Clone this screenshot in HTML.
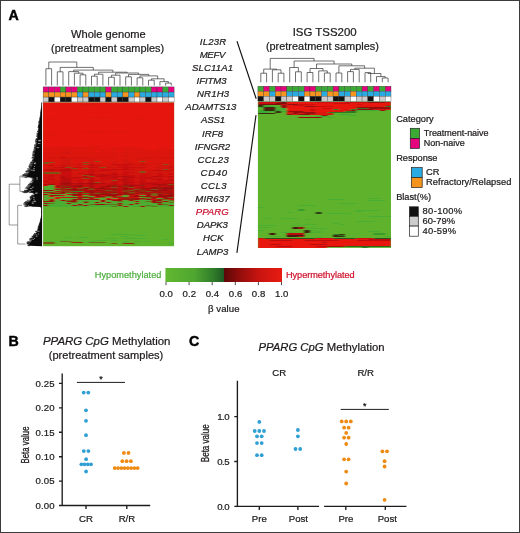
<!DOCTYPE html>
<html lang="en"><head><meta charset="utf-8"><title>Figure</title>
<style>html,body{margin:0;padding:0;background:#fff}svg{display:block;filter:opacity(1)}</style></head>
<body>
<svg width="520" height="533" viewBox="0 0 520 533" font-family="'Liberation Sans', Arial, Helvetica, sans-serif" fill="#1d1a1b">
<rect x="0" y="0" width="520" height="533" fill="#fff"/>
<text x="8.4" y="20.4" font-size="14.2" fill="#000" font-weight="bold" stroke="#000" stroke-width="0.45">A</text>
<text x="108.4" y="37.6" font-size="11.1" text-anchor="middle" textLength="74.8" lengthAdjust="spacingAndGlyphs" stroke="#1d1a1b" stroke-width="0.22">Whole genome</text>
<text x="107.6" y="51.6" font-size="11.1" text-anchor="middle" textLength="113" lengthAdjust="spacingAndGlyphs" stroke="#1d1a1b" stroke-width="0.22">(pretreatment samples)</text>
<text x="324.7" y="36.4" font-size="11.1" text-anchor="middle" textLength="64" lengthAdjust="spacingAndGlyphs" stroke="#1d1a1b" stroke-width="0.22">ISG TSS200</text>
<text x="322.4" y="50.4" font-size="11.1" text-anchor="middle" textLength="113" lengthAdjust="spacingAndGlyphs" stroke="#1d1a1b" stroke-width="0.22">(pretreatment samples)</text>
<text x="213" y="44.8" font-size="9.6" text-anchor="middle" font-style="italic" textLength="26.3" stroke="#1d1a1b" stroke-width="0.22">IL23R</text>
<text x="212.5" y="57.9" font-size="9.6" text-anchor="middle" font-style="italic" textLength="25.6" stroke="#1d1a1b" stroke-width="0.22">MEFV</text>
<text x="212.5" y="71.0" font-size="9.6" text-anchor="middle" font-style="italic" textLength="41.2" stroke="#1d1a1b" stroke-width="0.22">SLC11A1</text>
<text x="211.6" y="84.1" font-size="9.6" text-anchor="middle" font-style="italic" textLength="30" stroke="#1d1a1b" stroke-width="0.22">IFITM3</text>
<text x="213" y="97.2" font-size="9.6" text-anchor="middle" font-style="italic" textLength="32.2" stroke="#1d1a1b" stroke-width="0.22">NR1H3</text>
<text x="210.9" y="110.3" font-size="9.6" text-anchor="middle" font-style="italic" textLength="51.1" stroke="#1d1a1b" stroke-width="0.22">ADAMTS13</text>
<text x="213" y="123.4" font-size="9.6" text-anchor="middle" font-style="italic" textLength="24.1" stroke="#1d1a1b" stroke-width="0.22">ASS1</text>
<text x="212.5" y="136.5" font-size="9.6" text-anchor="middle" font-style="italic" textLength="21" stroke="#1d1a1b" stroke-width="0.22">IRF8</text>
<text x="212.5" y="149.6" font-size="9.6" text-anchor="middle" font-style="italic" textLength="35.4" stroke="#1d1a1b" stroke-width="0.22">IFNGR2</text>
<text x="213.2" y="162.7" font-size="9.6" text-anchor="middle" font-style="italic" textLength="31.5" stroke="#1d1a1b" stroke-width="0.22">CCL23</text>
<text x="213.8" y="175.8" font-size="9.6" text-anchor="middle" font-style="italic" textLength="26.4" stroke="#1d1a1b" stroke-width="0.22">CD40</text>
<text x="213.6" y="189.0" font-size="9.6" text-anchor="middle" font-style="italic" textLength="25.9" stroke="#1d1a1b" stroke-width="0.22">CCL3</text>
<text x="212.4" y="202.1" font-size="9.6" text-anchor="middle" font-style="italic" textLength="34.2" stroke="#1d1a1b" stroke-width="0.22">MIR637</text>
<text x="212.2" y="215.2" font-size="9.6" text-anchor="middle" fill="#c8102e" font-style="italic" textLength="32.9" stroke="#c8102e" stroke-width="0.22">PPARG</text>
<text x="212.4" y="228.3" font-size="9.6" text-anchor="middle" font-style="italic" textLength="31.1" stroke="#1d1a1b" stroke-width="0.22">DAPK3</text>
<text x="213.2" y="241.4" font-size="9.6" text-anchor="middle" font-style="italic" textLength="20.3" stroke="#1d1a1b" stroke-width="0.22">HCK</text>
<text x="212.6" y="254.5" font-size="9.6" text-anchor="middle" font-style="italic" textLength="31.5" stroke="#1d1a1b" stroke-width="0.22">LAMP3</text>
<path d="M237 41.2L256.2 98.7M256 115.2L236.9 252.8" stroke="#151515" stroke-width="1.15" fill="none"/>
<rect x="43.1" y="102.5" width="131.0" height="143.7" fill="#5eb22c"/>
<rect x="43.1" y="102.5" width="131.0" height="100" fill="#e6160e"/>
<defs><filter id="bl" x="-5%" y="-5%" width="110%" height="110%"><feGaussianBlur stdDeviation="1.0 0.6"/></filter><filter id="bl2" x="-5%" y="-5%" width="110%" height="110%"><feGaussianBlur stdDeviation="0.8 0.45"/></filter><clipPath id="cl"><rect x="43.1" y="102.5" width="131.0" height="143.7"/></clipPath><clipPath id="cr"><rect x="257.9" y="101.5" width="133.1" height="146.4"/></clipPath></defs>
<g clip-path="url(#cl)"><g filter="url(#bl)">
<path fill="#4bae31" d="M48.8 185h5.7v1h-5.7zM43.1 186h11.4v1h-11.4zM43.1 187h11.4v1h-11.4zM43.1 188h11.4v1h-11.4zM43.1 189h11.4v1h-11.4zM54.5 190h5.7v1h-5.7zM43.1 191h11.4v1h-11.4zM43.1 193h5.7v1h-5.7zM65.9 193h5.7v1h-5.7zM48.8 194h17.1v1h-17.1zM43.1 195h5.7v1h-5.7zM65.9 195h5.7v1h-5.7zM83.0 195h5.7v1h-5.7zM122.8 195h5.7v1h-5.7zM139.9 195h5.7v1h-5.7zM43.1 196h5.7v1h-5.7zM54.5 196h22.8v1h-22.8zM88.7 196h5.7v1h-5.7zM122.8 196h5.7v1h-5.7zM43.1 197h11.4v1h-11.4zM105.8 197h5.7v1h-5.7zM139.9 197h5.7v1h-5.7zM43.1 198h11.4v1h-11.4zM60.2 198h17.1v1h-17.1zM83.0 198h5.7v1h-5.7zM94.4 198h11.4v1h-11.4zM111.4 198h5.7v1h-5.7zM157.0 198h5.7v1h-5.7zM43.1 199h5.7v1h-5.7zM54.5 199h17.1v1h-17.1zM100.1 199h5.7v1h-5.7zM43.1 200h5.7v1h-5.7zM54.5 200h5.7v1h-5.7zM77.3 200h22.8v1h-22.8zM105.8 200h5.7v1h-5.7zM122.8 200h5.7v1h-5.7zM134.2 200h17.1v1h-17.1zM162.7 200h5.7v1h-5.7zM54.5 201h11.4v1h-11.4zM77.3 201h5.7v1h-5.7zM88.7 201h11.4v1h-11.4zM105.8 201h11.4v1h-11.4zM122.8 201h11.4v1h-11.4zM139.9 201h5.7v1h-5.7zM168.4 201h5.7v1h-5.7zM43.1 202h28.5v1h-28.5zM77.3 202h5.7v1h-5.7zM88.7 202h5.7v1h-5.7zM100.1 202h5.7v1h-5.7zM111.4 202h39.9v1h-39.9zM162.7 202h5.7v1h-5.7zM54.5 203h11.4v1h-11.4zM71.6 203h45.6v1h-45.6zM122.8 203h11.4v1h-11.4zM139.9 203h17.1v1h-17.1zM162.7 203h11.4v1h-11.4zM43.1 204h34.2v1h-34.2zM83.0 204h5.7v1h-5.7zM122.8 204h5.7v1h-5.7zM134.2 204h22.8v1h-22.8zM168.4 204h5.7v1h-5.7zM48.8 205h22.8v1h-22.8zM88.7 205h28.5v1h-28.5zM122.8 205h22.8v1h-22.8zM151.3 205h17.1v1h-17.1zM43.1 206h68.3v1h-68.3zM117.1 206h5.7v1h-5.7zM128.5 206h11.4v1h-11.4zM145.6 206h5.7v1h-5.7zM157.0 206h17.1v1h-17.1zM111.4 234h22.8v1h-22.8zM134.2 235h11.4v1h-11.4zM122.8 236h5.7v1h-5.7zM65.9 237h5.7v1h-5.7zM77.3 237h11.4v1h-11.4zM105.8 238h11.4v1h-11.4zM122.8 238h22.8v1h-22.8zM162.7 239h5.7v1h-5.7zM60.2 240h5.7v1h-5.7zM94.4 240h11.4v1h-11.4zM111.4 240h5.7v1h-5.7zM48.8 241h5.7v1h-5.7zM88.7 241h5.7v1h-5.7zM122.8 241h5.7v1h-5.7zM134.2 241h5.7v1h-5.7zM145.6 241h5.7v1h-5.7zM122.8 242h5.7v1h-5.7zM168.4 243h5.7v1h-5.7z"/>
<path fill="#3a8024" d="M71.6 191h11.4v1h-11.4zM71.6 193h5.7v1h-5.7zM83.0 193h5.7v1h-5.7z"/>
<path fill="#5e731d" d="M65.9 200h5.7v1h-5.7zM168.4 200h5.7v1h-5.7zM83.0 201h5.7v1h-5.7zM117.1 201h5.7v1h-5.7zM145.6 201h5.7v1h-5.7zM157.0 201h5.7v1h-5.7zM71.6 202h5.7v1h-5.7zM168.4 202h5.7v1h-5.7zM48.8 203h5.7v1h-5.7zM157.0 203h5.7v1h-5.7zM88.7 204h5.7v1h-5.7zM105.8 204h17.1v1h-17.1zM162.7 204h5.7v1h-5.7zM77.3 205h5.7v1h-5.7zM145.6 205h5.7v1h-5.7zM111.4 206h5.7v1h-5.7zM151.3 206h5.7v1h-5.7z"/>
<path fill="#706c1a" d="M54.5 188h5.7v1h-5.7zM65.9 188h5.7v1h-5.7zM54.5 192h5.7v1h-5.7zM151.3 194h5.7v1h-5.7zM151.3 195h5.7v1h-5.7zM83.0 196h5.7v1h-5.7zM105.8 196h5.7v1h-5.7zM117.1 196h5.7v1h-5.7zM100.1 197h5.7v1h-5.7zM145.6 197h5.7v1h-5.7zM168.4 197h5.7v1h-5.7zM145.6 198h5.7v1h-5.7zM139.9 199h5.7v1h-5.7zM162.7 199h5.7v1h-5.7zM60.2 241h11.4v1h-11.4zM88.7 242h17.1v1h-17.1z"/>
<path fill="#7d5515" d="M94.4 161h5.7v1h-5.7zM139.9 161h5.7v1h-5.7zM43.1 162h11.4v1h-11.4zM83.0 162h5.7v1h-5.7zM43.1 163h5.7v1h-5.7zM83.0 164h5.7v1h-5.7zM162.7 164h5.7v1h-5.7zM65.9 167h5.7v1h-5.7zM100.1 167h5.7v1h-5.7zM71.6 168h5.7v1h-5.7zM83.0 168h5.7v1h-5.7zM162.7 169h5.7v1h-5.7zM139.9 171h5.7v1h-5.7zM43.1 172h17.1v1h-17.1zM139.9 172h5.7v1h-5.7zM43.1 173h17.1v1h-17.1zM83.0 175h5.7v1h-5.7zM88.7 176h5.7v1h-5.7zM83.0 178h5.7v1h-5.7zM111.4 180h5.7v1h-5.7zM94.4 182h5.7v1h-5.7zM168.4 184h5.7v1h-5.7zM83.0 187h5.7v1h-5.7zM111.4 187h5.7v1h-5.7zM128.5 187h5.7v1h-5.7zM77.3 188h5.7v1h-5.7zM88.7 189h5.7v1h-5.7zM134.2 189h5.7v1h-5.7zM151.3 189h5.7v1h-5.7zM105.8 190h5.7v1h-5.7zM128.5 190h5.7v1h-5.7zM145.6 191h5.7v1h-5.7zM128.5 192h5.7v1h-5.7zM94.4 193h5.7v1h-5.7zM111.4 193h5.7v1h-5.7zM151.3 193h5.7v1h-5.7zM43.1 242h11.4v1h-11.4zM43.1 243h11.4v1h-11.4zM111.4 243h5.7v1h-5.7z"/>
<path fill="#8a3e10" d="M65.9 190h5.7v1h-5.7zM60.2 191h11.4v1h-11.4zM122.8 191h5.7v1h-5.7zM65.9 192h5.7v1h-5.7z"/>
<path fill="#912d0e" d="M60.2 186h11.4v1h-11.4zM122.8 186h5.7v1h-5.7zM60.2 188h5.7v1h-5.7zM88.7 188h5.7v1h-5.7zM60.2 189h5.7v1h-5.7zM60.2 190h5.7v1h-5.7zM122.8 190h5.7v1h-5.7zM139.9 190h5.7v1h-5.7zM111.4 191h5.7v1h-5.7zM139.9 191h5.7v1h-5.7zM48.8 192h5.7v1h-5.7zM128.5 193h5.7v1h-5.7zM139.9 193h5.7v1h-5.7zM157.0 193h5.7v1h-5.7zM88.7 197h5.7v1h-5.7zM122.8 197h5.7v1h-5.7zM71.6 242h11.4v1h-11.4zM122.8 243h11.4v1h-11.4z"/>
<path fill="#971d0c" d="M60.2 185h5.7v1h-5.7zM111.4 185h5.7v1h-5.7zM122.8 185h5.7v1h-5.7zM139.9 185h5.7v1h-5.7zM111.4 186h5.7v1h-5.7zM157.0 187h5.7v1h-5.7zM157.0 188h5.7v1h-5.7zM77.3 189h5.7v1h-5.7zM111.4 189h5.7v1h-5.7zM139.9 189h5.7v1h-5.7zM168.4 189h5.7v1h-5.7zM48.8 190h5.7v1h-5.7zM77.3 190h5.7v1h-5.7zM100.1 190h5.7v1h-5.7zM157.0 190h5.7v1h-5.7zM83.0 191h5.7v1h-5.7zM105.8 191h5.7v1h-5.7zM128.5 191h11.4v1h-11.4zM151.3 191h5.7v1h-5.7zM43.1 192h5.7v1h-5.7zM94.4 192h11.4v1h-11.4zM60.2 193h5.7v1h-5.7zM88.7 193h5.7v1h-5.7zM100.1 193h11.4v1h-11.4zM122.8 193h5.7v1h-5.7zM134.2 193h5.7v1h-5.7zM145.6 193h5.7v1h-5.7zM162.7 193h11.4v1h-11.4zM88.7 194h5.7v1h-5.7zM122.8 194h5.7v1h-5.7zM88.7 195h5.7v1h-5.7zM111.4 196h5.7v1h-5.7zM139.9 196h5.7v1h-5.7zM71.6 197h17.1v1h-17.1zM117.1 197h5.7v1h-5.7zM151.3 197h5.7v1h-5.7zM162.7 197h5.7v1h-5.7zM77.3 198h5.7v1h-5.7zM88.7 198h5.7v1h-5.7zM122.8 198h11.4v1h-11.4zM139.9 198h5.7v1h-5.7zM168.4 198h5.7v1h-5.7zM77.3 199h5.7v1h-5.7zM88.7 199h5.7v1h-5.7zM122.8 199h11.4v1h-11.4zM157.0 199h5.7v1h-5.7z"/>
<path fill="#9e0c0a" d="M60.2 183h11.4v1h-11.4zM88.7 183h5.7v1h-5.7zM48.8 184h5.7v1h-5.7zM157.0 184h5.7v1h-5.7zM77.3 185h5.7v1h-5.7zM128.5 185h5.7v1h-5.7zM168.4 185h5.7v1h-5.7zM54.5 186h5.7v1h-5.7zM71.6 186h11.4v1h-11.4zM105.8 186h5.7v1h-5.7zM117.1 186h5.7v1h-5.7zM128.5 186h5.7v1h-5.7zM65.9 187h5.7v1h-5.7zM100.1 187h5.7v1h-5.7zM151.3 187h5.7v1h-5.7zM162.7 187h11.4v1h-11.4zM71.6 188h5.7v1h-5.7zM83.0 188h5.7v1h-5.7zM94.4 188h11.4v1h-11.4zM122.8 188h5.7v1h-5.7zM145.6 188h11.4v1h-11.4zM162.7 188h11.4v1h-11.4zM54.5 189h5.7v1h-5.7zM65.9 189h11.4v1h-11.4zM83.0 189h5.7v1h-5.7zM105.8 189h5.7v1h-5.7zM122.8 189h5.7v1h-5.7zM162.7 189h5.7v1h-5.7zM43.1 190h5.7v1h-5.7zM71.6 190h5.7v1h-5.7zM88.7 190h11.4v1h-11.4zM134.2 190h5.7v1h-5.7zM145.6 190h11.4v1h-11.4zM162.7 190h5.7v1h-5.7zM88.7 191h5.7v1h-5.7zM60.2 192h5.7v1h-5.7zM88.7 192h5.7v1h-5.7zM111.4 192h5.7v1h-5.7zM122.8 192h5.7v1h-5.7zM139.9 192h5.7v1h-5.7zM43.1 194h5.7v1h-5.7zM71.6 194h11.4v1h-11.4zM94.4 194h28.5v1h-28.5zM128.5 194h5.7v1h-5.7zM145.6 194h5.7v1h-5.7zM157.0 194h5.7v1h-5.7zM168.4 194h5.7v1h-5.7zM48.8 195h11.4v1h-11.4zM71.6 195h11.4v1h-11.4zM94.4 195h5.7v1h-5.7zM105.8 195h11.4v1h-11.4zM134.2 195h5.7v1h-5.7zM145.6 195h5.7v1h-5.7zM157.0 195h17.1v1h-17.1zM94.4 196h11.4v1h-11.4zM128.5 196h11.4v1h-11.4zM145.6 196h5.7v1h-5.7zM157.0 196h17.1v1h-17.1zM134.2 198h5.7v1h-5.7zM151.3 198h5.7v1h-5.7zM162.7 198h5.7v1h-5.7zM71.6 199h5.7v1h-5.7zM83.0 199h5.7v1h-5.7zM94.4 199h5.7v1h-5.7zM105.8 199h5.7v1h-5.7zM117.1 199h5.7v1h-5.7zM134.2 199h5.7v1h-5.7zM145.6 199h5.7v1h-5.7zM48.8 200h5.7v1h-5.7zM60.2 200h5.7v1h-5.7zM71.6 200h5.7v1h-5.7zM100.1 200h5.7v1h-5.7zM111.4 200h11.4v1h-11.4zM128.5 200h5.7v1h-5.7zM151.3 200h11.4v1h-11.4zM43.1 201h11.4v1h-11.4zM65.9 201h11.4v1h-11.4zM100.1 201h5.7v1h-5.7zM134.2 201h5.7v1h-5.7zM151.3 201h5.7v1h-5.7zM162.7 201h5.7v1h-5.7zM83.0 202h5.7v1h-5.7zM94.4 202h5.7v1h-5.7zM105.8 202h5.7v1h-5.7zM151.3 202h11.4v1h-11.4zM43.1 203h5.7v1h-5.7zM65.9 203h5.7v1h-5.7zM117.1 203h5.7v1h-5.7zM134.2 203h5.7v1h-5.7zM77.3 204h5.7v1h-5.7zM94.4 204h11.4v1h-11.4zM128.5 204h5.7v1h-5.7zM157.0 204h5.7v1h-5.7zM43.1 205h5.7v1h-5.7zM71.6 205h5.7v1h-5.7zM83.0 205h5.7v1h-5.7zM117.1 205h5.7v1h-5.7zM168.4 205h5.7v1h-5.7zM122.8 206h5.7v1h-5.7zM139.9 206h5.7v1h-5.7z"/>
<path fill="#ad0d0b" d="M65.9 170h5.7v1h-5.7zM88.7 174h5.7v1h-5.7zM122.8 176h5.7v1h-5.7zM60.2 177h5.7v1h-5.7zM122.8 179h5.7v1h-5.7zM65.9 182h5.7v1h-5.7zM77.3 183h11.4v1h-11.4zM94.4 183h11.4v1h-11.4zM168.4 183h5.7v1h-5.7zM43.1 184h5.7v1h-5.7zM60.2 184h11.4v1h-11.4zM88.7 184h5.7v1h-5.7zM122.8 184h5.7v1h-5.7zM151.3 184h5.7v1h-5.7zM162.7 184h5.7v1h-5.7zM65.9 185h11.4v1h-11.4zM88.7 185h5.7v1h-5.7zM105.8 185h5.7v1h-5.7zM134.2 185h5.7v1h-5.7zM162.7 185h5.7v1h-5.7zM88.7 186h5.7v1h-5.7zM60.2 187h5.7v1h-5.7zM88.7 187h5.7v1h-5.7zM122.8 187h5.7v1h-5.7zM139.9 187h5.7v1h-5.7zM111.4 188h5.7v1h-5.7zM139.9 188h5.7v1h-5.7zM128.5 189h5.7v1h-5.7zM157.0 189h5.7v1h-5.7zM111.4 190h5.7v1h-5.7zM100.1 191h5.7v1h-5.7zM157.0 191h5.7v1h-5.7zM168.4 191h5.7v1h-5.7zM77.3 192h5.7v1h-5.7zM157.0 192h5.7v1h-5.7zM168.4 192h5.7v1h-5.7zM48.8 193h11.4v1h-11.4zM77.3 193h5.7v1h-5.7zM117.1 193h5.7v1h-5.7z"/>
<path fill="#bb0f0b" d="M88.7 165h5.7v1h-5.7zM60.2 167h5.7v1h-5.7zM88.7 167h5.7v1h-5.7zM48.8 169h5.7v1h-5.7zM60.2 169h11.4v1h-11.4zM111.4 169h5.7v1h-5.7zM122.8 169h5.7v1h-5.7zM48.8 170h5.7v1h-5.7zM60.2 170h5.7v1h-5.7zM157.0 170h5.7v1h-5.7zM83.0 174h5.7v1h-5.7zM100.1 174h5.7v1h-5.7zM111.4 174h5.7v1h-5.7zM88.7 175h5.7v1h-5.7zM100.1 175h11.4v1h-11.4zM60.2 176h5.7v1h-5.7zM83.0 176h5.7v1h-5.7zM94.4 176h11.4v1h-11.4zM111.4 176h11.4v1h-11.4zM128.5 176h5.7v1h-5.7zM151.3 176h11.4v1h-11.4zM168.4 176h5.7v1h-5.7zM71.6 177h17.1v1h-17.1zM111.4 177h5.7v1h-5.7zM122.8 177h11.4v1h-11.4zM145.6 177h5.7v1h-5.7zM60.2 178h11.4v1h-11.4zM88.7 178h5.7v1h-5.7zM60.2 179h11.4v1h-11.4zM88.7 179h5.7v1h-5.7zM117.1 179h5.7v1h-5.7zM151.3 179h11.4v1h-11.4zM168.4 179h5.7v1h-5.7zM60.2 180h11.4v1h-11.4zM88.7 180h5.7v1h-5.7zM122.8 180h5.7v1h-5.7zM60.2 181h11.4v1h-11.4zM88.7 181h5.7v1h-5.7zM122.8 181h5.7v1h-5.7zM139.9 181h5.7v1h-5.7zM60.2 182h5.7v1h-5.7zM88.7 182h5.7v1h-5.7zM122.8 182h11.4v1h-11.4zM71.6 183h5.7v1h-5.7zM111.4 183h5.7v1h-5.7zM122.8 183h5.7v1h-5.7zM139.9 183h17.1v1h-17.1zM162.7 183h5.7v1h-5.7zM77.3 184h5.7v1h-5.7zM111.4 184h5.7v1h-5.7zM128.5 184h5.7v1h-5.7zM139.9 184h5.7v1h-5.7zM157.0 185h5.7v1h-5.7zM100.1 186h5.7v1h-5.7zM139.9 186h5.7v1h-5.7zM157.0 186h5.7v1h-5.7zM168.4 186h5.7v1h-5.7zM77.3 187h5.7v1h-5.7zM105.8 188h5.7v1h-5.7zM117.1 188h5.7v1h-5.7zM128.5 188h11.4v1h-11.4zM94.4 189h11.4v1h-11.4zM117.1 189h5.7v1h-5.7zM145.6 189h5.7v1h-5.7zM83.0 190h5.7v1h-5.7zM117.1 190h5.7v1h-5.7zM168.4 190h5.7v1h-5.7zM54.5 191h5.7v1h-5.7zM94.4 191h5.7v1h-5.7zM117.1 191h5.7v1h-5.7zM162.7 191h5.7v1h-5.7zM71.6 192h5.7v1h-5.7zM83.0 192h5.7v1h-5.7zM105.8 192h5.7v1h-5.7zM117.1 192h5.7v1h-5.7zM134.2 192h5.7v1h-5.7zM145.6 192h11.4v1h-11.4zM162.7 192h5.7v1h-5.7z"/>
<path fill="#ca100c" d="M60.2 157h5.7v1h-5.7zM77.3 164h5.7v1h-5.7zM88.7 164h5.7v1h-5.7zM111.4 164h22.8v1h-22.8zM139.9 164h5.7v1h-5.7zM48.8 165h5.7v1h-5.7zM60.2 165h5.7v1h-5.7zM94.4 165h5.7v1h-5.7zM117.1 165h11.4v1h-11.4zM122.8 166h5.7v1h-5.7zM54.5 167h5.7v1h-5.7zM71.6 167h11.4v1h-11.4zM94.4 167h5.7v1h-5.7zM105.8 167h5.7v1h-5.7zM117.1 167h28.5v1h-28.5zM168.4 167h5.7v1h-5.7zM65.9 168h5.7v1h-5.7zM122.8 168h5.7v1h-5.7zM43.1 169h5.7v1h-5.7zM54.5 169h5.7v1h-5.7zM71.6 169h5.7v1h-5.7zM88.7 169h5.7v1h-5.7zM100.1 169h11.4v1h-11.4zM117.1 169h5.7v1h-5.7zM128.5 169h5.7v1h-5.7zM43.1 170h5.7v1h-5.7zM54.5 170h5.7v1h-5.7zM88.7 170h22.8v1h-22.8zM151.3 170h5.7v1h-5.7zM162.7 170h11.4v1h-11.4zM60.2 171h11.4v1h-11.4zM88.7 171h5.7v1h-5.7zM122.8 171h5.7v1h-5.7zM60.2 172h11.4v1h-11.4zM88.7 172h5.7v1h-5.7zM111.4 172h5.7v1h-5.7zM122.8 172h11.4v1h-11.4zM60.2 173h11.4v1h-11.4zM77.3 173h5.7v1h-5.7zM88.7 173h5.7v1h-5.7zM111.4 173h5.7v1h-5.7zM122.8 173h5.7v1h-5.7zM139.9 173h5.7v1h-5.7zM157.0 173h5.7v1h-5.7zM168.4 173h5.7v1h-5.7zM60.2 174h11.4v1h-11.4zM94.4 174h5.7v1h-5.7zM105.8 174h5.7v1h-5.7zM117.1 174h11.4v1h-11.4zM145.6 174h5.7v1h-5.7zM157.0 174h5.7v1h-5.7zM168.4 174h5.7v1h-5.7zM48.8 175h5.7v1h-5.7zM60.2 175h11.4v1h-11.4zM94.4 175h5.7v1h-5.7zM111.4 175h5.7v1h-5.7zM122.8 175h11.4v1h-11.4zM139.9 175h5.7v1h-5.7zM157.0 175h5.7v1h-5.7zM48.8 176h5.7v1h-5.7zM65.9 176h5.7v1h-5.7zM105.8 176h5.7v1h-5.7zM139.9 176h5.7v1h-5.7zM162.7 176h5.7v1h-5.7zM43.1 177h5.7v1h-5.7zM65.9 177h5.7v1h-5.7zM88.7 177h5.7v1h-5.7zM100.1 177h11.4v1h-11.4zM134.2 177h11.4v1h-11.4zM151.3 177h5.7v1h-5.7zM168.4 177h5.7v1h-5.7zM48.8 178h5.7v1h-5.7zM71.6 178h5.7v1h-5.7zM100.1 178h17.1v1h-17.1zM122.8 178h11.4v1h-11.4zM139.9 178h11.4v1h-11.4zM157.0 178h5.7v1h-5.7zM48.8 179h5.7v1h-5.7zM77.3 179h11.4v1h-11.4zM100.1 179h17.1v1h-17.1zM128.5 179h5.7v1h-5.7zM139.9 179h5.7v1h-5.7zM43.1 180h11.4v1h-11.4zM71.6 180h11.4v1h-11.4zM94.4 180h5.7v1h-5.7zM117.1 180h5.7v1h-5.7zM128.5 180h5.7v1h-5.7zM139.9 180h5.7v1h-5.7zM157.0 180h17.1v1h-17.1zM43.1 181h5.7v1h-5.7zM54.5 181h5.7v1h-5.7zM77.3 181h5.7v1h-5.7zM100.1 181h5.7v1h-5.7zM111.4 181h11.4v1h-11.4zM128.5 181h5.7v1h-5.7zM157.0 181h17.1v1h-17.1zM43.1 182h11.4v1h-11.4zM77.3 182h5.7v1h-5.7zM111.4 182h5.7v1h-5.7zM134.2 182h34.2v1h-34.2zM48.8 183h11.4v1h-11.4zM105.8 183h5.7v1h-5.7zM128.5 183h5.7v1h-5.7zM157.0 183h5.7v1h-5.7zM54.5 184h5.7v1h-5.7zM71.6 184h5.7v1h-5.7zM83.0 184h5.7v1h-5.7zM94.4 184h17.1v1h-17.1zM117.1 184h5.7v1h-5.7zM134.2 184h5.7v1h-5.7zM145.6 184h5.7v1h-5.7zM43.1 185h5.7v1h-5.7zM54.5 185h5.7v1h-5.7zM83.0 185h5.7v1h-5.7zM94.4 185h11.4v1h-11.4zM117.1 185h5.7v1h-5.7zM145.6 185h11.4v1h-11.4zM83.0 186h5.7v1h-5.7zM94.4 186h5.7v1h-5.7zM134.2 186h5.7v1h-5.7zM145.6 186h11.4v1h-11.4zM162.7 186h5.7v1h-5.7zM54.5 187h5.7v1h-5.7zM71.6 187h5.7v1h-5.7zM94.4 187h5.7v1h-5.7zM105.8 187h5.7v1h-5.7zM117.1 187h5.7v1h-5.7zM134.2 187h5.7v1h-5.7zM145.6 187h5.7v1h-5.7z"/>
<path fill="#d3120d" d="M65.9 150h5.7v1h-5.7zM60.2 152h11.4v1h-11.4zM122.8 152h5.7v1h-5.7zM65.9 153h5.7v1h-5.7zM111.4 153h5.7v1h-5.7zM168.4 153h5.7v1h-5.7zM122.8 156h5.7v1h-5.7zM43.1 157h17.1v1h-17.1zM65.9 157h22.8v1h-22.8zM94.4 157h22.8v1h-22.8zM145.6 157h28.5v1h-28.5zM48.8 158h5.7v1h-5.7zM60.2 158h34.2v1h-34.2zM134.2 158h17.1v1h-17.1zM162.7 158h11.4v1h-11.4zM60.2 159h11.4v1h-11.4zM88.7 159h5.7v1h-5.7zM122.8 159h5.7v1h-5.7zM139.9 159h5.7v1h-5.7zM60.2 160h11.4v1h-11.4zM88.7 160h5.7v1h-5.7zM122.8 160h5.7v1h-5.7zM48.8 161h5.7v1h-5.7zM60.2 161h11.4v1h-11.4zM88.7 161h5.7v1h-5.7zM111.4 161h5.7v1h-5.7zM122.8 161h5.7v1h-5.7zM60.2 162h11.4v1h-11.4zM77.3 162h5.7v1h-5.7zM88.7 162h5.7v1h-5.7zM111.4 162h5.7v1h-5.7zM122.8 162h11.4v1h-11.4zM139.9 162h5.7v1h-5.7zM60.2 163h11.4v1h-11.4zM88.7 163h5.7v1h-5.7zM111.4 163h5.7v1h-5.7zM122.8 163h11.4v1h-11.4zM139.9 163h5.7v1h-5.7zM151.3 163h11.4v1h-11.4zM48.8 164h5.7v1h-5.7zM60.2 164h17.1v1h-17.1zM94.4 164h5.7v1h-5.7zM134.2 164h5.7v1h-5.7zM145.6 164h5.7v1h-5.7zM157.0 164h5.7v1h-5.7zM168.4 164h5.7v1h-5.7zM43.1 165h5.7v1h-5.7zM54.5 165h5.7v1h-5.7zM65.9 165h5.7v1h-5.7zM77.3 165h5.7v1h-5.7zM100.1 165h17.1v1h-17.1zM128.5 165h22.8v1h-22.8zM157.0 165h17.1v1h-17.1zM48.8 166h5.7v1h-5.7zM60.2 166h11.4v1h-11.4zM77.3 166h5.7v1h-5.7zM88.7 166h11.4v1h-11.4zM111.4 166h5.7v1h-5.7zM128.5 166h5.7v1h-5.7zM139.9 166h11.4v1h-11.4zM157.0 166h5.7v1h-5.7zM168.4 166h5.7v1h-5.7zM48.8 167h5.7v1h-5.7zM111.4 167h5.7v1h-5.7zM151.3 167h17.1v1h-17.1zM48.8 168h17.1v1h-17.1zM77.3 168h5.7v1h-5.7zM88.7 168h17.1v1h-17.1zM111.4 168h5.7v1h-5.7zM128.5 168h17.1v1h-17.1zM157.0 168h17.1v1h-17.1zM77.3 169h11.4v1h-11.4zM134.2 169h28.5v1h-28.5zM168.4 169h5.7v1h-5.7zM71.6 170h17.1v1h-17.1zM111.4 170h39.9v1h-39.9zM48.8 171h11.4v1h-11.4zM71.6 171h17.1v1h-17.1zM94.4 171h22.8v1h-22.8zM128.5 171h11.4v1h-11.4zM145.6 171h28.5v1h-28.5zM77.3 172h11.4v1h-11.4zM94.4 172h17.1v1h-17.1zM134.2 172h5.7v1h-5.7zM145.6 172h28.5v1h-28.5zM71.6 173h5.7v1h-5.7zM83.0 173h5.7v1h-5.7zM94.4 173h17.1v1h-17.1zM117.1 173h5.7v1h-5.7zM128.5 173h11.4v1h-11.4zM145.6 173h11.4v1h-11.4zM162.7 173h5.7v1h-5.7zM43.1 174h17.1v1h-17.1zM71.6 174h11.4v1h-11.4zM128.5 174h17.1v1h-17.1zM151.3 174h5.7v1h-5.7zM162.7 174h5.7v1h-5.7zM43.1 175h5.7v1h-5.7zM54.5 175h5.7v1h-5.7zM71.6 175h11.4v1h-11.4zM117.1 175h5.7v1h-5.7zM134.2 175h5.7v1h-5.7zM145.6 175h11.4v1h-11.4zM162.7 175h11.4v1h-11.4zM43.1 176h5.7v1h-5.7zM54.5 176h5.7v1h-5.7zM71.6 176h11.4v1h-11.4zM134.2 176h5.7v1h-5.7zM145.6 176h5.7v1h-5.7zM48.8 177h11.4v1h-11.4zM94.4 177h5.7v1h-5.7zM117.1 177h5.7v1h-5.7zM157.0 177h11.4v1h-11.4zM43.1 178h5.7v1h-5.7zM54.5 178h5.7v1h-5.7zM77.3 178h5.7v1h-5.7zM94.4 178h5.7v1h-5.7zM117.1 178h5.7v1h-5.7zM134.2 178h5.7v1h-5.7zM151.3 178h5.7v1h-5.7zM162.7 178h11.4v1h-11.4zM43.1 179h5.7v1h-5.7zM54.5 179h5.7v1h-5.7zM71.6 179h5.7v1h-5.7zM94.4 179h5.7v1h-5.7zM134.2 179h5.7v1h-5.7zM145.6 179h5.7v1h-5.7zM162.7 179h5.7v1h-5.7zM54.5 180h5.7v1h-5.7zM83.0 180h5.7v1h-5.7zM100.1 180h11.4v1h-11.4zM134.2 180h5.7v1h-5.7zM145.6 180h11.4v1h-11.4zM48.8 181h5.7v1h-5.7zM71.6 181h5.7v1h-5.7zM83.0 181h5.7v1h-5.7zM94.4 181h5.7v1h-5.7zM105.8 181h5.7v1h-5.7zM134.2 181h5.7v1h-5.7zM145.6 181h11.4v1h-11.4zM54.5 182h5.7v1h-5.7zM71.6 182h5.7v1h-5.7zM83.0 182h5.7v1h-5.7zM100.1 182h11.4v1h-11.4zM117.1 182h5.7v1h-5.7zM168.4 182h5.7v1h-5.7zM43.1 183h5.7v1h-5.7zM117.1 183h5.7v1h-5.7zM134.2 183h5.7v1h-5.7zM65.9 194h5.7v1h-5.7zM83.0 194h5.7v1h-5.7zM134.2 194h11.4v1h-11.4zM162.7 194h5.7v1h-5.7zM60.2 195h5.7v1h-5.7zM100.1 195h5.7v1h-5.7zM117.1 195h5.7v1h-5.7zM128.5 195h5.7v1h-5.7zM48.8 196h5.7v1h-5.7zM77.3 196h5.7v1h-5.7zM151.3 196h5.7v1h-5.7zM54.5 197h17.1v1h-17.1zM94.4 197h5.7v1h-5.7zM111.4 197h5.7v1h-5.7zM128.5 197h11.4v1h-11.4zM157.0 197h5.7v1h-5.7zM54.5 198h5.7v1h-5.7zM105.8 198h5.7v1h-5.7zM117.1 198h5.7v1h-5.7zM48.8 199h5.7v1h-5.7zM111.4 199h5.7v1h-5.7zM151.3 199h5.7v1h-5.7zM168.4 199h5.7v1h-5.7z"/>
<path fill="#dd140d" d="M168.4 103h5.7v1h-5.7zM77.3 104h17.1v1h-17.1zM145.6 104h5.7v1h-5.7zM168.4 104h5.7v1h-5.7zM88.7 117h22.8v1h-22.8zM48.8 118h5.7v1h-5.7zM134.2 118h11.4v1h-11.4zM83.0 131h22.8v1h-22.8zM111.4 131h17.1v1h-17.1zM162.7 131h5.7v1h-5.7zM43.1 134h17.1v1h-17.1zM88.7 146h17.1v1h-17.1zM162.7 146h5.7v1h-5.7zM43.1 147h51.3v1h-51.3zM111.4 147h22.8v1h-22.8zM157.0 147h5.7v1h-5.7zM43.1 148h57.0v1h-57.0zM105.8 148h39.9v1h-39.9zM43.1 149h62.7v1h-62.7zM111.4 149h34.2v1h-34.2zM157.0 149h17.1v1h-17.1zM43.1 150h22.8v1h-22.8zM77.3 150h5.7v1h-5.7zM88.7 150h5.7v1h-5.7zM100.1 150h17.1v1h-17.1zM122.8 150h51.3v1h-51.3zM48.8 151h45.6v1h-45.6zM100.1 151h5.7v1h-5.7zM111.4 151h5.7v1h-5.7zM122.8 151h51.3v1h-51.3zM43.1 152h17.1v1h-17.1zM71.6 152h51.3v1h-51.3zM128.5 152h45.6v1h-45.6zM43.1 153h22.8v1h-22.8zM71.6 153h39.9v1h-39.9zM117.1 153h51.3v1h-51.3zM43.1 154h131.0v1h-131.0zM43.1 155h131.0v1h-131.0zM43.1 156h79.7v1h-79.7zM128.5 156h45.6v1h-45.6zM88.7 157h5.7v1h-5.7zM117.1 157h28.5v1h-28.5zM43.1 158h5.7v1h-5.7zM54.5 158h5.7v1h-5.7zM94.4 158h39.9v1h-39.9zM151.3 158h11.4v1h-11.4zM43.1 159h17.1v1h-17.1zM71.6 159h17.1v1h-17.1zM94.4 159h28.5v1h-28.5zM128.5 159h11.4v1h-11.4zM145.6 159h28.5v1h-28.5zM43.1 160h17.1v1h-17.1zM71.6 160h17.1v1h-17.1zM94.4 160h28.5v1h-28.5zM128.5 160h45.6v1h-45.6zM43.1 161h5.7v1h-5.7zM54.5 161h5.7v1h-5.7zM71.6 161h17.1v1h-17.1zM100.1 161h11.4v1h-11.4zM117.1 161h5.7v1h-5.7zM128.5 161h11.4v1h-11.4zM145.6 161h28.5v1h-28.5zM54.5 162h5.7v1h-5.7zM71.6 162h5.7v1h-5.7zM94.4 162h17.1v1h-17.1zM117.1 162h5.7v1h-5.7zM134.2 162h5.7v1h-5.7zM145.6 162h28.5v1h-28.5zM48.8 163h11.4v1h-11.4zM71.6 163h17.1v1h-17.1zM94.4 163h17.1v1h-17.1zM117.1 163h5.7v1h-5.7zM134.2 163h5.7v1h-5.7zM145.6 163h5.7v1h-5.7zM162.7 163h11.4v1h-11.4zM43.1 164h5.7v1h-5.7zM54.5 164h5.7v1h-5.7zM100.1 164h11.4v1h-11.4zM151.3 164h5.7v1h-5.7zM71.6 165h5.7v1h-5.7zM83.0 165h5.7v1h-5.7zM151.3 165h5.7v1h-5.7zM43.1 166h5.7v1h-5.7zM54.5 166h5.7v1h-5.7zM71.6 166h5.7v1h-5.7zM83.0 166h5.7v1h-5.7zM100.1 166h11.4v1h-11.4zM117.1 166h5.7v1h-5.7zM134.2 166h5.7v1h-5.7zM151.3 166h5.7v1h-5.7zM162.7 166h5.7v1h-5.7zM43.1 167h5.7v1h-5.7zM83.0 167h5.7v1h-5.7zM145.6 167h5.7v1h-5.7zM43.1 168h5.7v1h-5.7zM105.8 168h5.7v1h-5.7zM117.1 168h5.7v1h-5.7zM145.6 168h11.4v1h-11.4zM94.4 169h5.7v1h-5.7zM43.1 171h5.7v1h-5.7zM117.1 171h5.7v1h-5.7zM71.6 172h5.7v1h-5.7zM117.1 172h5.7v1h-5.7z"/>
</g></g>
<rect x="257.9" y="101.5" width="133.1" height="146.4" fill="#5eb22c"/>
<g clip-path="url(#cr)"><g filter="url(#bl2)">
<path fill="#49ae33" d="M367.9 198h11.6v1h-11.6zM327.3 199h17.4v1h-17.4zM367.9 200h17.4v1h-17.4zM338.9 203h17.4v1h-17.4zM298.4 205h17.4v1h-17.4zM257.9 207h5.8v1h-5.8zM356.3 210h23.1v1h-23.1zM356.3 211h5.8v1h-5.8zM286.8 212h5.8v1h-5.8zM327.3 213h23.1v1h-23.1zM367.9 216h23.1v1h-23.1zM263.7 218h5.8v1h-5.8zM281.0 218h17.4v1h-17.4zM304.2 219h5.8v1h-5.8zM356.3 221h17.4v1h-17.4zM333.1 223h5.8v1h-5.8zM304.2 224h11.6v1h-11.6zM338.9 224h5.8v1h-5.8zM257.9 225h17.4v1h-17.4zM292.6 225h11.6v1h-11.6zM257.9 227h11.6v1h-11.6zM304.2 228h23.1v1h-23.1zM257.9 230h5.8v1h-5.8zM310.0 230h5.8v1h-5.8zM315.8 231h5.8v1h-5.8zM367.9 231h11.6v1h-11.6zM281.0 232h11.6v1h-11.6zM310.0 232h11.6v1h-11.6zM269.5 236h11.6v1h-11.6zM385.2 236h5.8v1h-5.8zM315.8 237h5.8v1h-5.8z"/>
<path fill="#3eac36" d="M263.7 105h5.8v1h-5.8zM263.7 106h11.6v1h-11.6zM257.9 107h5.8v1h-5.8zM275.3 107h5.8v1h-5.8zM281.0 108h5.8v1h-5.8zM275.3 109h11.6v1h-11.6zM257.9 110h5.8v1h-5.8zM275.3 110h5.8v1h-5.8zM356.3 110h23.1v1h-23.1zM257.9 111h17.4v1h-17.4zM281.0 111h5.8v1h-5.8zM257.9 112h11.6v1h-11.6zM338.9 114h11.6v1h-11.6zM350.5 115h5.8v1h-5.8zM315.8 116h11.6v1h-11.6zM327.3 117h5.8v1h-5.8z"/>
<path fill="#399b2f" d="M298.4 209h5.8v1h-5.8zM298.4 210h5.8v1h-5.8zM373.6 233h11.6v1h-11.6zM373.6 234h11.6v1h-11.6z"/>
<path fill="#307822" d="M385.2 106h5.8v1h-5.8zM356.3 108h11.6v1h-11.6zM333.1 109h5.8v1h-5.8zM350.5 109h5.8v1h-5.8zM344.7 111h11.6v1h-11.6zM327.3 112h28.9v1h-28.9zM333.1 234h5.8v1h-5.8zM338.9 235h5.8v1h-5.8zM362.1 247h5.8v1h-5.8z"/>
<path fill="#2d651d" d="M344.7 246h46.3v1h-46.3z"/>
<path fill="#2b5117" d="M263.7 238h52.1v1h-52.1zM333.1 238h23.1v1h-23.1zM373.6 238h17.4v1h-17.4z"/>
<path fill="#283e12" d="M315.8 212h5.8v1h-5.8zM315.8 213h5.8v1h-5.8z"/>
<path fill="#372a0e" d="M257.9 105h5.8v1h-5.8zM257.9 106h5.8v1h-5.8zM263.7 107h11.6v1h-11.6zM263.7 109h11.6v1h-11.6zM263.7 110h11.6v1h-11.6zM275.3 111h5.8v1h-5.8zM275.3 112h5.8v1h-5.8zM257.9 113h17.4v1h-17.4zM304.2 230h5.8v1h-5.8zM304.2 231h5.8v1h-5.8zM304.2 232h5.8v1h-5.8zM338.9 234h5.8v1h-5.8zM333.1 235h5.8v1h-5.8zM333.1 236h11.6v1h-11.6z"/>
<path fill="#46160a" d="M292.6 227h5.8v1h-5.8zM292.6 228h5.8v1h-5.8zM269.5 233h5.8v1h-5.8zM269.5 234h5.8v1h-5.8zM286.8 235h17.4v1h-17.4zM286.8 236h11.6v1h-11.6z"/>
<path fill="#61130a" d="M263.7 108h11.6v1h-11.6z"/>
<path fill="#7b0f0a" d="M281.0 102h5.8v1h-5.8zM275.3 103h11.6v1h-11.6zM257.9 104h23.1v1h-23.1z"/>
<path fill="#960c0a" d="M367.9 102h17.4v1h-17.4zM286.8 104h11.6v1h-11.6zM281.0 105h5.8v1h-5.8zM281.0 106h5.8v1h-5.8zM304.2 106h11.6v1h-11.6zM281.0 107h5.8v1h-5.8zM356.3 107h34.7v1h-34.7zM367.9 108h23.1v1h-23.1zM356.3 109h17.4v1h-17.4zM350.5 110h5.8v1h-5.8zM379.4 110h5.8v1h-5.8zM286.8 111h17.4v1h-17.4zM292.6 112h23.1v1h-23.1zM292.6 113h5.8v1h-5.8zM304.2 113h11.6v1h-11.6zM286.8 114h5.8v1h-5.8zM298.4 114h11.6v1h-11.6zM321.6 115h5.8v1h-5.8zM298.4 117h23.1v1h-23.1zM298.4 227h5.8v1h-5.8zM298.4 228h5.8v1h-5.8z"/>
<path fill="#a80d0b" d="M327.3 246h17.4v1h-17.4z"/>
<path fill="#bb0f0b" d="M286.8 233h17.4v1h-17.4zM286.8 234h17.4v1h-17.4zM298.4 236h5.8v1h-5.8zM367.9 239h23.1v1h-23.1zM269.5 240h23.1v1h-23.1zM304.2 240h34.7v1h-34.7zM356.3 240h34.7v1h-34.7zM321.6 242h5.8v1h-5.8zM269.5 244h11.6v1h-11.6zM310.0 244h17.4v1h-17.4zM275.3 246h17.4v1h-17.4zM315.8 246h11.6v1h-11.6z"/>
<path fill="#cd100c" d="M257.9 102h23.1v1h-23.1zM315.8 102h17.4v1h-17.4zM344.7 102h23.1v1h-23.1zM385.2 102h5.8v1h-5.8zM257.9 103h17.4v1h-17.4zM333.1 103h17.4v1h-17.4zM281.0 104h5.8v1h-5.8zM298.4 104h17.4v1h-17.4zM356.3 104h5.8v1h-5.8zM292.6 105h11.6v1h-11.6zM385.2 105h5.8v1h-5.8zM315.8 106h17.4v1h-17.4zM321.6 108h11.6v1h-11.6zM310.0 109h5.8v1h-5.8zM310.0 110h5.8v1h-5.8zM257.9 238h5.8v1h-5.8zM315.8 238h17.4v1h-17.4zM356.3 238h17.4v1h-17.4z"/>
<path fill="#df140d" d="M356.3 106h28.9v1h-28.9zM338.9 109h11.6v1h-11.6zM373.6 109h17.4v1h-17.4zM333.1 110h17.4v1h-17.4zM333.1 111h11.6v1h-11.6zM286.8 112h5.8v1h-5.8zM315.8 112h11.6v1h-11.6zM286.8 113h5.8v1h-5.8zM298.4 113h5.8v1h-5.8zM315.8 113h17.4v1h-17.4zM292.6 114h5.8v1h-5.8zM310.0 114h23.1v1h-23.1z"/>
<path fill="#e8160e" d="M286.8 102h28.9v1h-28.9zM333.1 102h11.6v1h-11.6zM286.8 103h46.3v1h-46.3zM350.5 103h40.5v1h-40.5zM315.8 104h40.5v1h-40.5zM362.1 104h28.9v1h-28.9zM286.8 105h5.8v1h-5.8zM304.2 105h81.0v1h-81.0zM286.8 106h17.4v1h-17.4zM333.1 106h23.1v1h-23.1zM286.8 107h69.4v1h-69.4zM286.8 108h34.7v1h-34.7zM333.1 108h23.1v1h-23.1zM286.8 109h23.1v1h-23.1zM315.8 109h17.4v1h-17.4zM286.8 110h23.1v1h-23.1zM315.8 110h17.4v1h-17.4zM304.2 111h28.9v1h-28.9zM257.9 239h110.0v1h-110.0zM257.9 240h11.6v1h-11.6zM292.6 240h11.6v1h-11.6zM338.9 240h17.4v1h-17.4zM257.9 241h133.1v1h-133.1zM257.9 242h63.7v1h-63.7zM327.3 242h63.7v1h-63.7zM257.9 243h133.1v1h-133.1zM257.9 244h11.6v1h-11.6zM281.0 244h28.9v1h-28.9zM327.3 244h63.7v1h-63.7zM257.9 245h133.1v1h-133.1zM257.9 246h17.4v1h-17.4zM292.6 246h23.1v1h-23.1zM257.9 247h69.4v1h-69.4z"/>
</g></g>
<rect x="43.10" y="86.90" width="5.70" height="5.20" fill="#e6007e" stroke="#3a3a3a" stroke-width="0.35"/>
<rect x="48.80" y="86.90" width="5.70" height="5.20" fill="#e6007e" stroke="#3a3a3a" stroke-width="0.35"/>
<rect x="54.49" y="86.90" width="5.70" height="5.20" fill="#e6007e" stroke="#3a3a3a" stroke-width="0.35"/>
<rect x="60.19" y="86.90" width="5.70" height="5.20" fill="#3aaa35" stroke="#3a3a3a" stroke-width="0.35"/>
<rect x="65.88" y="86.90" width="5.70" height="5.20" fill="#e6007e" stroke="#3a3a3a" stroke-width="0.35"/>
<rect x="71.58" y="86.90" width="5.70" height="5.20" fill="#e6007e" stroke="#3a3a3a" stroke-width="0.35"/>
<rect x="77.27" y="86.90" width="5.70" height="5.20" fill="#3aaa35" stroke="#3a3a3a" stroke-width="0.35"/>
<rect x="82.97" y="86.90" width="5.70" height="5.20" fill="#3aaa35" stroke="#3a3a3a" stroke-width="0.35"/>
<rect x="88.67" y="86.90" width="5.70" height="5.20" fill="#3aaa35" stroke="#3a3a3a" stroke-width="0.35"/>
<rect x="94.36" y="86.90" width="5.70" height="5.20" fill="#3aaa35" stroke="#3a3a3a" stroke-width="0.35"/>
<rect x="100.06" y="86.90" width="5.70" height="5.20" fill="#3aaa35" stroke="#3a3a3a" stroke-width="0.35"/>
<rect x="105.75" y="86.90" width="5.70" height="5.20" fill="#e6007e" stroke="#3a3a3a" stroke-width="0.35"/>
<rect x="111.45" y="86.90" width="5.70" height="5.20" fill="#3aaa35" stroke="#3a3a3a" stroke-width="0.35"/>
<rect x="117.14" y="86.90" width="5.70" height="5.20" fill="#3aaa35" stroke="#3a3a3a" stroke-width="0.35"/>
<rect x="122.84" y="86.90" width="5.70" height="5.20" fill="#3aaa35" stroke="#3a3a3a" stroke-width="0.35"/>
<rect x="128.53" y="86.90" width="5.70" height="5.20" fill="#3aaa35" stroke="#3a3a3a" stroke-width="0.35"/>
<rect x="134.23" y="86.90" width="5.70" height="5.20" fill="#3aaa35" stroke="#3a3a3a" stroke-width="0.35"/>
<rect x="139.93" y="86.90" width="5.70" height="5.20" fill="#3aaa35" stroke="#3a3a3a" stroke-width="0.35"/>
<rect x="145.62" y="86.90" width="5.70" height="5.20" fill="#3aaa35" stroke="#3a3a3a" stroke-width="0.35"/>
<rect x="151.32" y="86.90" width="5.70" height="5.20" fill="#e6007e" stroke="#3a3a3a" stroke-width="0.35"/>
<rect x="157.01" y="86.90" width="5.70" height="5.20" fill="#e6007e" stroke="#3a3a3a" stroke-width="0.35"/>
<rect x="162.71" y="86.90" width="5.70" height="5.20" fill="#3aaa35" stroke="#3a3a3a" stroke-width="0.35"/>
<rect x="168.40" y="86.90" width="5.70" height="5.20" fill="#e6007e" stroke="#3a3a3a" stroke-width="0.35"/>
<rect x="43.10" y="92.10" width="5.70" height="5.00" fill="#f7941d" stroke="#3a3a3a" stroke-width="0.35"/>
<rect x="48.80" y="92.10" width="5.70" height="5.00" fill="#f7941d" stroke="#3a3a3a" stroke-width="0.35"/>
<rect x="54.49" y="92.10" width="5.70" height="5.00" fill="#f7941d" stroke="#3a3a3a" stroke-width="0.35"/>
<rect x="60.19" y="92.10" width="5.70" height="5.00" fill="#f7941d" stroke="#3a3a3a" stroke-width="0.35"/>
<rect x="65.88" y="92.10" width="5.70" height="5.00" fill="#f7941d" stroke="#3a3a3a" stroke-width="0.35"/>
<rect x="71.58" y="92.10" width="5.70" height="5.00" fill="#f7941d" stroke="#3a3a3a" stroke-width="0.35"/>
<rect x="77.27" y="92.10" width="5.70" height="5.00" fill="#29abe2" stroke="#3a3a3a" stroke-width="0.35"/>
<rect x="82.97" y="92.10" width="5.70" height="5.00" fill="#f7941d" stroke="#3a3a3a" stroke-width="0.35"/>
<rect x="88.67" y="92.10" width="5.70" height="5.00" fill="#29abe2" stroke="#3a3a3a" stroke-width="0.35"/>
<rect x="94.36" y="92.10" width="5.70" height="5.00" fill="#29abe2" stroke="#3a3a3a" stroke-width="0.35"/>
<rect x="100.06" y="92.10" width="5.70" height="5.00" fill="#29abe2" stroke="#3a3a3a" stroke-width="0.35"/>
<rect x="105.75" y="92.10" width="5.70" height="5.00" fill="#f7941d" stroke="#3a3a3a" stroke-width="0.35"/>
<rect x="111.45" y="92.10" width="5.70" height="5.00" fill="#29abe2" stroke="#3a3a3a" stroke-width="0.35"/>
<rect x="117.14" y="92.10" width="5.70" height="5.00" fill="#29abe2" stroke="#3a3a3a" stroke-width="0.35"/>
<rect x="122.84" y="92.10" width="5.70" height="5.00" fill="#f7941d" stroke="#3a3a3a" stroke-width="0.35"/>
<rect x="128.53" y="92.10" width="5.70" height="5.00" fill="#29abe2" stroke="#3a3a3a" stroke-width="0.35"/>
<rect x="134.23" y="92.10" width="5.70" height="5.00" fill="#f7941d" stroke="#3a3a3a" stroke-width="0.35"/>
<rect x="139.93" y="92.10" width="5.70" height="5.00" fill="#29abe2" stroke="#3a3a3a" stroke-width="0.35"/>
<rect x="145.62" y="92.10" width="5.70" height="5.00" fill="#29abe2" stroke="#3a3a3a" stroke-width="0.35"/>
<rect x="151.32" y="92.10" width="5.70" height="5.00" fill="#29abe2" stroke="#3a3a3a" stroke-width="0.35"/>
<rect x="157.01" y="92.10" width="5.70" height="5.00" fill="#29abe2" stroke="#3a3a3a" stroke-width="0.35"/>
<rect x="162.71" y="92.10" width="5.70" height="5.00" fill="#29abe2" stroke="#3a3a3a" stroke-width="0.35"/>
<rect x="168.40" y="92.10" width="5.70" height="5.00" fill="#29abe2" stroke="#3a3a3a" stroke-width="0.35"/>
<rect x="43.10" y="97.10" width="5.70" height="4.80" fill="#cccccc" stroke="#3a3a3a" stroke-width="0.35"/>
<rect x="48.80" y="97.10" width="5.70" height="4.80" fill="#111111" stroke="#3a3a3a" stroke-width="0.35"/>
<rect x="54.49" y="97.10" width="5.70" height="4.80" fill="#ffffff" stroke="#3a3a3a" stroke-width="0.35"/>
<rect x="60.19" y="97.10" width="5.70" height="4.80" fill="#111111" stroke="#3a3a3a" stroke-width="0.35"/>
<rect x="65.88" y="97.10" width="5.70" height="4.80" fill="#111111" stroke="#3a3a3a" stroke-width="0.35"/>
<rect x="71.58" y="97.10" width="5.70" height="4.80" fill="#ffffff" stroke="#3a3a3a" stroke-width="0.35"/>
<rect x="77.27" y="97.10" width="5.70" height="4.80" fill="#cccccc" stroke="#3a3a3a" stroke-width="0.35"/>
<rect x="82.97" y="97.10" width="5.70" height="4.80" fill="#cccccc" stroke="#3a3a3a" stroke-width="0.35"/>
<rect x="88.67" y="97.10" width="5.70" height="4.80" fill="#111111" stroke="#3a3a3a" stroke-width="0.35"/>
<rect x="94.36" y="97.10" width="5.70" height="4.80" fill="#111111" stroke="#3a3a3a" stroke-width="0.35"/>
<rect x="100.06" y="97.10" width="5.70" height="4.80" fill="#cccccc" stroke="#3a3a3a" stroke-width="0.35"/>
<rect x="105.75" y="97.10" width="5.70" height="4.80" fill="#111111" stroke="#3a3a3a" stroke-width="0.35"/>
<rect x="111.45" y="97.10" width="5.70" height="4.80" fill="#cccccc" stroke="#3a3a3a" stroke-width="0.35"/>
<rect x="117.14" y="97.10" width="5.70" height="4.80" fill="#111111" stroke="#3a3a3a" stroke-width="0.35"/>
<rect x="122.84" y="97.10" width="5.70" height="4.80" fill="#111111" stroke="#3a3a3a" stroke-width="0.35"/>
<rect x="128.53" y="97.10" width="5.70" height="4.80" fill="#cccccc" stroke="#3a3a3a" stroke-width="0.35"/>
<rect x="134.23" y="97.10" width="5.70" height="4.80" fill="#ffffff" stroke="#3a3a3a" stroke-width="0.35"/>
<rect x="139.93" y="97.10" width="5.70" height="4.80" fill="#cccccc" stroke="#3a3a3a" stroke-width="0.35"/>
<rect x="145.62" y="97.10" width="5.70" height="4.80" fill="#111111" stroke="#3a3a3a" stroke-width="0.35"/>
<rect x="151.32" y="97.10" width="5.70" height="4.80" fill="#cccccc" stroke="#3a3a3a" stroke-width="0.35"/>
<rect x="157.01" y="97.10" width="5.70" height="4.80" fill="#ffffff" stroke="#3a3a3a" stroke-width="0.35"/>
<rect x="162.71" y="97.10" width="5.70" height="4.80" fill="#cccccc" stroke="#3a3a3a" stroke-width="0.35"/>
<rect x="168.40" y="97.10" width="5.70" height="4.80" fill="#ffffff" stroke="#3a3a3a" stroke-width="0.35"/>
<rect x="257.90" y="86.20" width="5.79" height="5.10" fill="#3aaa35" stroke="#3a3a3a" stroke-width="0.35"/>
<rect x="263.69" y="86.20" width="5.79" height="5.10" fill="#e6007e" stroke="#3a3a3a" stroke-width="0.35"/>
<rect x="269.47" y="86.20" width="5.79" height="5.10" fill="#3aaa35" stroke="#3a3a3a" stroke-width="0.35"/>
<rect x="275.26" y="86.20" width="5.79" height="5.10" fill="#e6007e" stroke="#3a3a3a" stroke-width="0.35"/>
<rect x="281.05" y="86.20" width="5.79" height="5.10" fill="#e6007e" stroke="#3a3a3a" stroke-width="0.35"/>
<rect x="286.83" y="86.20" width="5.79" height="5.10" fill="#3aaa35" stroke="#3a3a3a" stroke-width="0.35"/>
<rect x="292.62" y="86.20" width="5.79" height="5.10" fill="#3aaa35" stroke="#3a3a3a" stroke-width="0.35"/>
<rect x="298.41" y="86.20" width="5.79" height="5.10" fill="#3aaa35" stroke="#3a3a3a" stroke-width="0.35"/>
<rect x="304.20" y="86.20" width="5.79" height="5.10" fill="#e6007e" stroke="#3a3a3a" stroke-width="0.35"/>
<rect x="309.98" y="86.20" width="5.79" height="5.10" fill="#e6007e" stroke="#3a3a3a" stroke-width="0.35"/>
<rect x="315.77" y="86.20" width="5.79" height="5.10" fill="#3aaa35" stroke="#3a3a3a" stroke-width="0.35"/>
<rect x="321.56" y="86.20" width="5.79" height="5.10" fill="#3aaa35" stroke="#3a3a3a" stroke-width="0.35"/>
<rect x="327.34" y="86.20" width="5.79" height="5.10" fill="#3aaa35" stroke="#3a3a3a" stroke-width="0.35"/>
<rect x="333.13" y="86.20" width="5.79" height="5.10" fill="#e6007e" stroke="#3a3a3a" stroke-width="0.35"/>
<rect x="338.92" y="86.20" width="5.79" height="5.10" fill="#3aaa35" stroke="#3a3a3a" stroke-width="0.35"/>
<rect x="344.70" y="86.20" width="5.79" height="5.10" fill="#3aaa35" stroke="#3a3a3a" stroke-width="0.35"/>
<rect x="350.49" y="86.20" width="5.79" height="5.10" fill="#3aaa35" stroke="#3a3a3a" stroke-width="0.35"/>
<rect x="356.28" y="86.20" width="5.79" height="5.10" fill="#3aaa35" stroke="#3a3a3a" stroke-width="0.35"/>
<rect x="362.07" y="86.20" width="5.79" height="5.10" fill="#e6007e" stroke="#3a3a3a" stroke-width="0.35"/>
<rect x="367.85" y="86.20" width="5.79" height="5.10" fill="#3aaa35" stroke="#3a3a3a" stroke-width="0.35"/>
<rect x="373.64" y="86.20" width="5.79" height="5.10" fill="#e6007e" stroke="#3a3a3a" stroke-width="0.35"/>
<rect x="379.43" y="86.20" width="5.79" height="5.10" fill="#3aaa35" stroke="#3a3a3a" stroke-width="0.35"/>
<rect x="385.21" y="86.20" width="5.79" height="5.10" fill="#e6007e" stroke="#3a3a3a" stroke-width="0.35"/>
<rect x="257.90" y="91.30" width="5.79" height="5.00" fill="#f7941d" stroke="#3a3a3a" stroke-width="0.35"/>
<rect x="263.69" y="91.30" width="5.79" height="5.00" fill="#f7941d" stroke="#3a3a3a" stroke-width="0.35"/>
<rect x="269.47" y="91.30" width="5.79" height="5.00" fill="#29abe2" stroke="#3a3a3a" stroke-width="0.35"/>
<rect x="275.26" y="91.30" width="5.79" height="5.00" fill="#f7941d" stroke="#3a3a3a" stroke-width="0.35"/>
<rect x="281.05" y="91.30" width="5.79" height="5.00" fill="#f7941d" stroke="#3a3a3a" stroke-width="0.35"/>
<rect x="286.83" y="91.30" width="5.79" height="5.00" fill="#29abe2" stroke="#3a3a3a" stroke-width="0.35"/>
<rect x="292.62" y="91.30" width="5.79" height="5.00" fill="#29abe2" stroke="#3a3a3a" stroke-width="0.35"/>
<rect x="298.41" y="91.30" width="5.79" height="5.00" fill="#29abe2" stroke="#3a3a3a" stroke-width="0.35"/>
<rect x="304.20" y="91.30" width="5.79" height="5.00" fill="#f7941d" stroke="#3a3a3a" stroke-width="0.35"/>
<rect x="309.98" y="91.30" width="5.79" height="5.00" fill="#f7941d" stroke="#3a3a3a" stroke-width="0.35"/>
<rect x="315.77" y="91.30" width="5.79" height="5.00" fill="#f7941d" stroke="#3a3a3a" stroke-width="0.35"/>
<rect x="321.56" y="91.30" width="5.79" height="5.00" fill="#29abe2" stroke="#3a3a3a" stroke-width="0.35"/>
<rect x="327.34" y="91.30" width="5.79" height="5.00" fill="#f7941d" stroke="#3a3a3a" stroke-width="0.35"/>
<rect x="333.13" y="91.30" width="5.79" height="5.00" fill="#f7941d" stroke="#3a3a3a" stroke-width="0.35"/>
<rect x="338.92" y="91.30" width="5.79" height="5.00" fill="#29abe2" stroke="#3a3a3a" stroke-width="0.35"/>
<rect x="344.70" y="91.30" width="5.79" height="5.00" fill="#29abe2" stroke="#3a3a3a" stroke-width="0.35"/>
<rect x="350.49" y="91.30" width="5.79" height="5.00" fill="#f7941d" stroke="#3a3a3a" stroke-width="0.35"/>
<rect x="356.28" y="91.30" width="5.79" height="5.00" fill="#29abe2" stroke="#3a3a3a" stroke-width="0.35"/>
<rect x="362.07" y="91.30" width="5.79" height="5.00" fill="#29abe2" stroke="#3a3a3a" stroke-width="0.35"/>
<rect x="367.85" y="91.30" width="5.79" height="5.00" fill="#29abe2" stroke="#3a3a3a" stroke-width="0.35"/>
<rect x="373.64" y="91.30" width="5.79" height="5.00" fill="#29abe2" stroke="#3a3a3a" stroke-width="0.35"/>
<rect x="379.43" y="91.30" width="5.79" height="5.00" fill="#29abe2" stroke="#3a3a3a" stroke-width="0.35"/>
<rect x="385.21" y="91.30" width="5.79" height="5.00" fill="#29abe2" stroke="#3a3a3a" stroke-width="0.35"/>
<rect x="257.90" y="96.30" width="5.79" height="4.90" fill="#111111" stroke="#3a3a3a" stroke-width="0.35"/>
<rect x="263.69" y="96.30" width="5.79" height="4.90" fill="#cccccc" stroke="#3a3a3a" stroke-width="0.35"/>
<rect x="269.47" y="96.30" width="5.79" height="4.90" fill="#cccccc" stroke="#3a3a3a" stroke-width="0.35"/>
<rect x="275.26" y="96.30" width="5.79" height="4.90" fill="#111111" stroke="#3a3a3a" stroke-width="0.35"/>
<rect x="281.05" y="96.30" width="5.79" height="4.90" fill="#cccccc" stroke="#3a3a3a" stroke-width="0.35"/>
<rect x="286.83" y="96.30" width="5.79" height="4.90" fill="#cccccc" stroke="#3a3a3a" stroke-width="0.35"/>
<rect x="292.62" y="96.30" width="5.79" height="4.90" fill="#ffffff" stroke="#3a3a3a" stroke-width="0.35"/>
<rect x="298.41" y="96.30" width="5.79" height="4.90" fill="#111111" stroke="#3a3a3a" stroke-width="0.35"/>
<rect x="304.20" y="96.30" width="5.79" height="4.90" fill="#ffffff" stroke="#3a3a3a" stroke-width="0.35"/>
<rect x="309.98" y="96.30" width="5.79" height="4.90" fill="#111111" stroke="#3a3a3a" stroke-width="0.35"/>
<rect x="315.77" y="96.30" width="5.79" height="4.90" fill="#111111" stroke="#3a3a3a" stroke-width="0.35"/>
<rect x="321.56" y="96.30" width="5.79" height="4.90" fill="#cccccc" stroke="#3a3a3a" stroke-width="0.35"/>
<rect x="327.34" y="96.30" width="5.79" height="4.90" fill="#cccccc" stroke="#3a3a3a" stroke-width="0.35"/>
<rect x="333.13" y="96.30" width="5.79" height="4.90" fill="#111111" stroke="#3a3a3a" stroke-width="0.35"/>
<rect x="338.92" y="96.30" width="5.79" height="4.90" fill="#111111" stroke="#3a3a3a" stroke-width="0.35"/>
<rect x="344.70" y="96.30" width="5.79" height="4.90" fill="#cccccc" stroke="#3a3a3a" stroke-width="0.35"/>
<rect x="350.49" y="96.30" width="5.79" height="4.90" fill="#ffffff" stroke="#3a3a3a" stroke-width="0.35"/>
<rect x="356.28" y="96.30" width="5.79" height="4.90" fill="#cccccc" stroke="#3a3a3a" stroke-width="0.35"/>
<rect x="362.07" y="96.30" width="5.79" height="4.90" fill="#cccccc" stroke="#3a3a3a" stroke-width="0.35"/>
<rect x="367.85" y="96.30" width="5.79" height="4.90" fill="#111111" stroke="#3a3a3a" stroke-width="0.35"/>
<rect x="373.64" y="96.30" width="5.79" height="4.90" fill="#ffffff" stroke="#3a3a3a" stroke-width="0.35"/>
<rect x="379.43" y="96.30" width="5.79" height="4.90" fill="#cccccc" stroke="#3a3a3a" stroke-width="0.35"/>
<rect x="385.21" y="96.30" width="5.79" height="4.90" fill="#ffffff" stroke="#3a3a3a" stroke-width="0.35"/>
<path d="M45.9 85.6V68.7H51.6V85.6M57.3 85.6V71.8H63.0V85.6M80.1 85.6V74.8H85.8V85.6M74.4 85.6V73.2H83.0V74.8M68.7 85.6V71.6H78.7V73.2M91.5 85.6V76.2H97.2V85.6M94.4 76.2V74.2H102.9V85.6M108.6 85.6V77.3H114.3V85.6M111.4 77.3V75.2H120.0V85.6M125.7 85.6V76.8H131.4V85.6M137.1 85.6V77.8H142.8V85.6M148.5 85.6V80.2H154.2V85.6M165.6 85.6V83.1H171.3V85.6M159.9 85.6V81.6H168.4V83.1M151.3 80.2V78.8H164.1V81.6M139.9 77.8V75.9H157.7V78.8M128.5 76.8V74.4H148.8V75.9M115.7 75.2V73.0H138.7V74.4M98.6 74.2V72.2H127.2V73.0M73.7 71.6V70.1H112.9V72.2M60.2 71.8V67.4H93.3V70.1M48.8 68.7V62.0H76.8V67.4" fill="none" stroke="#333" stroke-width="0.7"/>
<path d="M260.8 82.3V73.2H266.6V82.3M278.2 82.3V73.2H283.9V82.3M272.4 82.3V69.8H281.0V73.2M263.7 73.2V69.1H276.7V69.8M295.5 82.3V71.8H301.3V82.3M289.7 82.3V67.5H298.4V71.8M307.1 82.3V72.5H312.9V82.3M324.4 82.3V73.0H330.2V82.3M318.7 82.3V70.9H327.3V73.0M310.0 72.5V68.5H323.0V70.9M336.0 82.3V73.0H341.8V82.3M347.6 82.3V71.6H353.4V82.3M350.5 71.6V69.4H359.2V82.3M365.0 82.3V72.6H370.7V82.3M382.3 82.3V78.0H388.1V82.3M376.5 82.3V76.6H385.2V78.0M367.9 72.6V73.5H380.9V76.6M354.8 69.4V68.2H374.4V73.5M338.9 73.0V65.8H364.6V68.2M316.5 68.5V64.0H351.8V65.8M294.1 67.5V61.0H334.1V64.0M270.2 69.1V58.4H314.1V61.0" fill="none" stroke="#333" stroke-width="0.7"/>
<path fill="#0a0a0a" d="M42.1 102.6L41.7 102.60L41.7 103.05L41.6 103.50L41.6 103.95L41.6 104.40L41.5 104.85L41.5 105.30L41.4 105.75L41.4 106.20L41.3 106.65L41.3 107.10L41.3 107.55L41.2 108.00L41.2 108.45L41.1 108.90L41.1 109.35L41.0 109.80L41.0 110.25L41.0 110.70L40.9 111.15L40.9 111.60L40.8 112.05L40.8 112.50L40.7 112.95L40.7 113.40L40.7 113.85L40.6 114.30L40.6 114.75L40.5 115.20L40.4 115.65L40.4 116.10L40.3 116.55L40.2 117.00L40.2 117.45L40.1 117.90L40.0 118.35L39.9 118.80L39.9 119.25L39.8 119.70L39.7 120.15L39.6 120.60L39.6 121.05L39.5 121.50L39.5 121.95L39.4 122.40L39.3 122.85L39.3 123.30L39.2 123.75L39.2 124.20L39.1 124.65L39.0 125.10L39.0 125.55L38.9 126.00L38.9 126.45L38.8 126.90L38.7 127.35L38.7 127.80L38.6 128.25L38.6 128.70L38.5 129.15L38.5 129.60L38.4 130.05L38.3 130.50L38.3 130.95L38.2 131.40L38.2 131.85L38.1 132.30L38.1 132.75L38.0 133.20L37.9 133.65L37.9 134.10L37.8 134.55L37.8 135.00L37.7 135.45L37.7 135.90L37.6 136.35L37.5 136.80L37.5 137.25L37.4 137.70L37.3 138.15L37.3 138.60L37.2 139.05L37.1 139.50L37.0 139.95L37.0 140.40L36.9 140.85L36.8 141.30L36.8 141.75L36.7 142.20L36.6 142.65L36.6 143.10L36.5 143.55L36.4 144.00L36.3 144.45L36.3 144.90L36.2 145.35L36.1 145.80L36.0 146.25L35.9 146.70L35.9 147.15L35.8 147.60L35.7 148.05L35.6 148.50L35.5 148.95L35.5 149.40L35.4 149.85L35.3 150.30L35.2 150.75L35.1 151.20L35.1 151.65L35.0 152.10L34.9 152.55L34.9 153.00L34.8 153.45L34.7 153.90L34.7 154.35L34.6 154.80L34.5 155.25L34.5 155.70L34.4 156.15L34.4 156.60L34.3 157.05L34.2 157.50L34.2 157.95L34.1 158.40L34.0 158.85L34.0 159.30L33.9 159.75L33.8 160.20L33.7 160.65L33.6 161.10L33.4 161.55L33.3 162.00L33.2 162.45L33.0 162.90L32.9 163.35L32.8 163.80L32.6 164.25L32.5 164.70L32.3 165.15L32.1 165.60L31.9 166.05L31.7 166.50L31.5 166.95L31.3 167.40L31.1 167.85L30.9 168.30L30.7 168.75L30.5 169.20L30.3 169.65L30.1 170.10L29.9 170.55L29.7 171.00L29.5 171.45L29.3 171.90L29.1 172.35L28.8 172.80L28.5 173.25L28.2 173.70L27.9 174.15L27.6 174.60L27.3 175.05L27.0 175.50L26.8 175.95L26.8 176.40L26.8 176.85L26.7 177.30L33.4 177.75L33.7 178.20L34.1 178.65L34.4 179.10L34.5 179.55L34.2 180.00L34.0 180.45L33.7 180.90L33.4 181.35L33.1 181.80L32.8 182.25L32.5 182.70L32.2 183.15L31.9 183.60L31.6 184.05L31.4 184.50L31.2 184.95L30.9 185.40L30.7 185.85L30.5 186.30L30.2 186.75L30.0 187.20L29.7 187.65L29.2 188.10L28.8 188.55L28.4 189.00L28.0 189.45L27.6 189.90L27.1 190.35L27.1 190.80L27.0 191.25L27.0 191.70L27.0 192.15L26.9 192.60L34.0 193.05L34.1 193.50L34.3 193.95L34.5 194.40L34.4 194.85L34.1 195.30L33.7 195.75L33.4 196.20L33.1 196.65L32.7 197.10L32.4 197.55L32.0 198.00L31.7 198.45L31.4 198.90L31.1 199.35L30.7 199.80L30.4 200.25L30.1 200.70L29.8 201.15L29.4 201.60L29.0 202.05L28.6 202.50L28.2 202.95L27.8 203.40L27.4 203.85L26.9 204.30L26.8 204.75L26.8 205.20L26.8 205.65L26.8 206.10L26.7 206.55L40.9 207.00L41.1 207.45L41.2 207.90L41.3 208.35L41.4 208.80L41.4 209.25L41.4 209.70L41.4 210.15L41.4 210.60L41.4 211.05L41.4 211.50L41.4 211.95L41.4 212.40L41.3 212.85L41.3 213.30L41.3 213.75L41.3 214.20L41.3 214.65L41.3 215.10L41.3 215.55L41.2 216.00L41.2 216.45L41.1 216.90L41.1 217.35L41.0 217.80L40.9 218.25L40.9 218.70L40.8 219.15L40.7 219.60L40.7 220.05L40.6 220.50L40.5 220.95L40.3 221.40L40.2 221.85L40.1 222.30L40.0 222.75L39.9 223.20L39.8 223.65L39.7 224.10L39.6 224.55L39.4 225.00L39.3 225.45L39.1 225.90L39.0 226.35L38.9 226.80L38.7 227.25L38.6 227.70L38.4 228.15L38.2 228.60L38.0 229.05L37.8 229.50L37.6 229.95L37.4 230.40L37.2 230.85L37.0 231.30L36.8 231.75L36.6 232.20L36.3 232.65L36.1 233.10L35.9 233.55L35.7 234.00L35.4 234.45L35.2 234.90L34.9 235.35L34.6 235.80L34.3 236.25L34.0 236.70L33.7 237.15L33.4 237.60L33.2 238.05L32.9 238.50L32.6 238.95L32.4 239.40L32.1 239.85L31.8 240.30L31.5 240.75L31.2 241.20L30.9 241.65L30.6 242.10L30.3 242.55L30.0 243.00L29.7 243.45L29.6 243.90L29.5 244.35L29.5 244.80L29.5 245.25L29.5 245.70L42.1 246.2z"/>
<path stroke="#0a0a0a" stroke-width="0.7" fill="none" d="M41.7 102.60H42.1M41.6 103.05H42.1M41.6 103.50H42.0M41.6 103.95H42.0M41.5 104.40H42.0M41.5 104.85H41.9M41.2 105.75H41.8M41.4 106.20H41.8M41.2 106.65H41.7M41.2 107.10H41.7M41.0 108.00H41.6M40.9 108.45H41.6M40.9 108.90H41.5M40.8 109.35H41.5M40.6 110.25H41.4M40.6 110.70H41.4M40.8 111.15H41.3M40.7 111.60H41.3M40.4 112.05H41.2M40.6 112.50H41.2M40.3 112.95H41.1M40.4 113.40H41.1M40.1 113.85H41.1M40.4 114.75H41.0M40.0 115.20H40.9M39.9 115.65H40.8M40.3 116.10H40.8M40.1 116.55H40.7M39.6 117.00H40.6M40.1 117.45H40.6M39.6 117.90H40.5M39.6 118.35H40.4M39.2 118.80H40.3M39.8 119.25H40.3M39.4 119.70H40.2M39.7 120.15H40.1M39.5 120.60H40.0M38.8 121.05H40.0M38.7 121.50H39.9M38.5 121.95H39.9M38.5 122.40H39.8M38.4 123.30H39.7M38.6 123.75H39.6M38.5 124.65H39.5M38.1 125.10H39.4M38.0 125.55H39.4M38.6 126.00H39.3M38.0 126.45H39.3M37.7 126.90H39.2M37.8 127.35H39.1M38.1 127.80H39.1M38.5 128.70H39.0M37.9 129.60H38.9M38.0 130.05H38.8M37.8 130.95H38.7M37.0 131.40H38.6M37.2 131.85H38.6M36.6 133.20H38.4M37.8 133.65H38.3M36.4 134.10H38.3M37.2 134.55H38.2M37.6 135.00H38.2M37.5 135.45H38.1M36.2 135.90H38.1M36.4 136.35H38.0M36.9 137.25H37.9M36.2 138.60H37.7M35.6 139.05H37.6M35.9 139.50H37.5M35.4 139.95H37.4M35.1 140.85H37.3M35.3 141.30H37.2M35.5 141.75H37.2M35.2 142.20H37.1M35.9 143.55H36.9M35.2 144.00H36.8M34.2 144.90H36.7M34.2 145.35H36.6M36.1 145.80H36.5M35.9 146.25H36.4M34.3 146.70H36.3M34.2 147.15H36.3M33.9 147.60H36.2M35.5 148.05H36.1M33.9 148.50H36.0M34.6 149.40H35.9M33.3 149.85H35.8M34.4 150.30H35.7M33.9 150.75H35.6M33.0 151.20H35.5M32.7 151.65H35.5M34.0 152.10H35.4M32.6 152.55H35.3M33.4 153.00H35.3M32.2 153.90H35.1M32.6 154.35H35.1M33.1 154.80H35.0M32.2 155.25H34.9M33.3 155.70H34.9M32.0 156.15H34.8M33.7 156.60H34.8M34.2 157.05H34.7M32.2 157.50H34.6M31.4 157.95H34.6M33.8 158.40H34.5M32.6 158.85H34.4M32.7 159.30H34.4M32.8 159.75H34.3M32.2 160.20H34.2M31.9 160.65H34.1M31.8 161.10H34.0M30.8 162.00H33.7M30.1 162.45H33.6M31.1 162.90H33.4M29.5 163.80H33.2M30.5 164.25H33.0M29.2 164.70H32.9M28.8 165.60H32.5M28.5 166.50H32.1M28.9 166.95H31.9M28.8 167.40H31.7M29.9 167.85H31.5M29.6 168.30H31.3M27.2 168.75H31.1M30.2 169.20H30.9M27.7 169.65H30.7M29.3 170.10H30.5M27.3 170.55H30.3M25.9 171.00H30.1M25.3 171.45H29.9M29.1 171.90H29.7M28.7 172.35H29.5M25.8 172.80H29.2M28.3 173.25H28.9M24.1 173.70H28.6M27.8 174.15H28.3M22.8 174.60H28.0M22.2 175.05H27.7M22.7 175.50H27.4M24.8 175.95H27.2M21.6 176.85H27.2M24.6 177.30H27.1M30.5 177.75H33.8M31.9 178.20H34.1M32.4 178.65H34.5M33.2 179.10H34.8M32.6 179.55H34.9M31.7 180.00H34.6M31.7 180.45H34.4M32.4 180.90H34.1M30.5 181.80H33.5M32.1 182.25H33.2M29.3 183.15H32.6M30.2 183.60H32.3M28.8 184.05H32.0M28.1 184.50H31.8M30.1 184.95H31.6M27.3 185.40H31.3M28.3 186.30H30.9M26.3 186.75H30.6M29.3 187.20H30.4M26.3 187.65H30.1M24.8 188.10H29.6M27.3 188.55H29.2M26.6 189.00H28.8M27.3 189.90H28.0M24.5 190.35H27.5M24.0 190.80H27.5M24.4 191.25H27.4M21.7 191.70H27.4M22.5 192.15H27.4M23.7 192.60H27.3M33.5 193.50H34.5M32.6 193.95H34.7M34.2 194.40H34.9M31.3 195.30H34.5M31.5 195.75H34.1M31.3 196.20H33.8M30.0 196.65H33.5M29.6 197.10H33.1M29.8 197.55H32.8M30.4 198.00H32.4M29.9 198.45H32.1M29.8 199.80H31.1M26.7 200.25H30.8M25.1 201.60H29.8M27.6 202.05H29.4M24.0 202.50H29.0M25.1 202.95H28.6M23.4 203.40H28.2M25.6 203.85H27.8M25.5 204.30H27.3M23.3 204.75H27.2M24.4 205.20H27.2M25.6 206.10H27.2M24.5 206.55H27.1M40.7 207.00H41.3M40.7 207.45H41.5M40.9 207.90H41.6M41.1 208.80H41.8M41.2 209.25H41.8M41.2 209.70H41.8M41.2 210.15H41.8M41.3 210.60H41.8M41.1 211.05H41.8M41.1 211.50H41.8M41.1 211.95H41.8M41.1 212.40H41.8M41.1 212.85H41.7M41.1 213.30H41.7M41.1 213.75H41.7M41.3 214.65H41.7M41.1 215.10H41.7M41.3 215.55H41.7M41.1 216.00H41.6M41.0 216.45H41.6M40.8 216.90H41.5M41.0 217.35H41.5M40.7 218.25H41.3M40.5 218.70H41.3M40.6 219.15H41.2M40.5 219.60H41.1M40.2 220.05H41.1M40.0 220.50H41.0M39.8 221.40H40.7M39.5 222.30H40.5M40.0 222.75H40.4M39.2 223.20H40.3M39.0 223.65H40.2M39.0 224.10H40.1M38.7 224.55H40.0M39.0 225.00H39.8M38.8 225.45H39.7M38.1 225.90H39.5M37.9 226.35H39.4M38.2 226.80H39.3M38.6 227.25H39.1M37.9 227.70H39.0M37.3 228.15H38.8M38.1 228.60H38.6M37.0 229.95H38.0M37.2 230.85H37.6M35.4 231.30H37.4M35.3 231.75H37.2M34.0 233.55H36.3M33.7 234.45H35.8M33.4 234.90H35.6M33.1 235.35H35.3M32.9 235.80H35.0M31.6 236.25H34.7M32.1 236.70H34.4M31.9 237.15H34.1M32.9 237.60H33.8M30.6 238.05H33.6M29.7 238.50H33.3M31.3 238.95H33.0M29.2 239.40H32.8M29.4 240.30H32.2M27.2 241.65H31.3M26.5 242.55H30.7M27.0 243.00H30.4M27.2 243.45H30.1M26.6 243.90H30.0M28.1 244.35H29.9M29.1 244.80H29.9M27.3 245.25H29.9M28.0 245.70H29.9"/>
<path stroke="#e8e8e8" stroke-width="0.55" fill="none" d="M38.2 140.40h2.6M38.6 140.85h1.9M37.9 143.55h2.5M36.6 147.60h2.6M34.5 162.90h1.4M33.9 163.35h1.3M34.2 163.80h1.6M33.9 166.50h1.2M33.0 168.75h1.9M30.6 170.10h1.9M32.5 170.55h2.4M36.3 177.75h1.5M36.4 179.10h1.5M31.9 187.20h1.9M29.9 188.55h2.3M31.4 190.35h1.4M28.5 191.25h2.5M27.5 192.60h1.6M35.5 193.05h2.2M35.3 193.50h1.5M33.1 197.55h1.6M33.3 199.35h1.4M33.7 201.15h2.1M33.6 201.60h2.1M31.8 202.05h1.6M31.8 203.40h2.0M27.8 205.65h1.1M29.2 206.55h2.4M37.1 231.30h2.4M37.8 234.00h1.3M35.9 234.90h1.2M35.7 236.25h1.8M33.9 238.50h1.1M32.6 239.40h1.4"/>
<path stroke="#555" stroke-width="0.6" fill="none" d="M23 176H19.9V191.3H22.3M19.9 184.2H9.2V225H17.7M22 205.3H17.7V244H25.5"/>
<defs><linearGradient id="cb" x1="0" x2="1" y1="0" y2="0"><stop offset="0" stop-color="#62b830"/><stop offset="0.25" stop-color="#4fa630"/><stop offset="0.42" stop-color="#2f7a2a"/><stop offset="0.5" stop-color="#1d5a24"/><stop offset="0.5" stop-color="#5a0808"/><stop offset="0.62" stop-color="#8c0c0a"/><stop offset="0.8" stop-color="#c81410"/><stop offset="1" stop-color="#e81c12"/></linearGradient></defs>
<rect x="165.4" y="268" width="116.6" height="14" fill="url(#cb)"/>
<text x="166.2" y="297" font-size="9.6" text-anchor="middle" textLength="13.5" stroke="#1d1a1b" stroke-width="0.22">0.0</text>
<text x="189.3" y="297" font-size="9.6" text-anchor="middle" textLength="13.5" stroke="#1d1a1b" stroke-width="0.22">0.2</text>
<text x="212.4" y="297" font-size="9.6" text-anchor="middle" textLength="13.5" stroke="#1d1a1b" stroke-width="0.22">0.4</text>
<text x="235.5" y="297" font-size="9.6" text-anchor="middle" textLength="13.5" stroke="#1d1a1b" stroke-width="0.22">0.6</text>
<text x="258.6" y="297" font-size="9.6" text-anchor="middle" textLength="13.5" stroke="#1d1a1b" stroke-width="0.22">0.8</text>
<text x="281.7" y="297" font-size="9.6" text-anchor="middle" textLength="13.5" stroke="#1d1a1b" stroke-width="0.22">1.0</text>
<path d="M166.0 282V285.2M189.1 282V285.2M212.2 282V285.2M235.3 282V285.2M258.4 282V285.2M281.5 282V285.2" stroke="#222" stroke-width="0.8"/>
<text x="94.8" y="278.3" font-size="9.2" fill="#4fae3f" textLength="66.6" stroke="#4fae3f" stroke-width="0.22">Hypomethylated</text>
<text x="286" y="278.3" font-size="9.2" fill="#d0112b" textLength="68.6" stroke="#d0112b" stroke-width="0.22">Hypermethylated</text>
<text x="223.8" y="312.2" font-size="9.6" text-anchor="middle" textLength="31.5" stroke="#1d1a1b" stroke-width="0.22">β value</text>
<text x="396.2" y="122.1" font-size="9.25" textLength="37.5" stroke="#1d1a1b" stroke-width="0.22">Category</text>
<text x="396.2" y="161" font-size="9.25" textLength="41.3" stroke="#1d1a1b" stroke-width="0.22">Response</text>
<text x="396.2" y="199.8" font-size="9.25" textLength="34.8" stroke="#1d1a1b" stroke-width="0.22">Blast(%)</text>
<rect x="410.3" y="128.3" width="9.2" height="10.1" fill="#3aaa35" stroke="#222" stroke-width="0.7"/>
<rect x="410.3" y="138.4" width="9.2" height="10" fill="#e6007e" stroke="#222" stroke-width="0.7"/>
<text x="423.8" y="136" font-size="9.0" textLength="64.7" stroke="#1d1a1b" stroke-width="0.22">Treatment-naive</text>
<text x="423.8" y="146.1" font-size="9.0" textLength="41" stroke="#1d1a1b" stroke-width="0.22">Non-naive</text>
<rect x="411.4" y="167.6" width="10.8" height="9.9" fill="#29abe2" stroke="#222" stroke-width="0.7"/>
<rect x="411.4" y="177.5" width="10.8" height="10" fill="#f7941d" stroke="#222" stroke-width="0.7"/>
<text x="426.1" y="175.1" font-size="9.3" stroke="#1d1a1b" stroke-width="0.22">CR</text>
<text x="426.1" y="185.2" font-size="9.3" textLength="85.2" stroke="#1d1a1b" stroke-width="0.22">Refractory/Relapsed</text>
<rect x="409.4" y="206.8" width="8.9" height="9.5" fill="#111111" stroke="#222" stroke-width="0.7"/>
<rect x="409.4" y="216.3" width="8.9" height="9.8" fill="#cccccc" stroke="#222" stroke-width="0.7"/>
<rect x="409.4" y="226.1" width="8.9" height="10.1" fill="#ffffff" stroke="#222" stroke-width="0.7"/>
<text x="422.5" y="214" font-size="9.4" textLength="39.7" stroke="#1d1a1b" stroke-width="0.22">80-100%</text>
<text x="422.5" y="223.8" font-size="9.4" textLength="32.6" stroke="#1d1a1b" stroke-width="0.22">60-79%</text>
<text x="422.5" y="233.6" font-size="9.4" textLength="33.6" stroke="#1d1a1b" stroke-width="0.22">40-59%</text>
<text x="8.5" y="345.7" font-size="14.2" fill="#000" font-weight="bold" stroke="#000" stroke-width="0.45">B</text>
<text x="43" y="345" font-size="11.1" textLength="127.5" lengthAdjust="spacingAndGlyphs" stroke="#1d1a1b" stroke-width="0.22"><tspan font-style="italic">PPARG CpG</tspan> Methylation</text>
<text x="106" y="358.8" font-size="11.1" text-anchor="middle" textLength="114.6" lengthAdjust="spacingAndGlyphs" stroke="#1d1a1b" stroke-width="0.22">(pretreatment samples)</text>
<text x="35.5" y="508.8" font-size="9.6" textLength="19.2" stroke="#1d1a1b" stroke-width="0.22">0.00</text>
<text x="35.5" y="484.4" font-size="9.6" textLength="19.2" stroke="#1d1a1b" stroke-width="0.22">0.05</text>
<text x="35.5" y="460.0" font-size="9.6" textLength="19.2" stroke="#1d1a1b" stroke-width="0.22">0.10</text>
<text x="35.5" y="435.5" font-size="9.6" textLength="19.2" stroke="#1d1a1b" stroke-width="0.22">0.15</text>
<text x="35.5" y="411.1" font-size="9.6" textLength="19.2" stroke="#1d1a1b" stroke-width="0.22">0.20</text>
<text x="35.5" y="386.7" font-size="9.6" textLength="19.2" stroke="#1d1a1b" stroke-width="0.22">0.25</text>
<path d="M76.9 382.4H125" stroke="#1c1c1c" stroke-width="1" fill="none"/>
<path d="M62.2 373.5V505.5H150.2M59 505.5H62.1M59 481.1H62.1M59 456.7H62.1M59 432.2H62.1M59 407.8H62.1M59 383.4H62.1M86 505.5V509M126.8 505.5V509" stroke="#1c1c1c" stroke-width="1.35" fill="none"/>
<text x="86.05" y="521.6" font-size="9.6" text-anchor="middle" stroke="#1d1a1b" stroke-width="0.22">CR</text>
<text x="126.9" y="521.5" font-size="9.6" text-anchor="middle" stroke="#1d1a1b" stroke-width="0.22">R/R</text>
<text transform="translate(29 445) rotate(-90)" font-size="11.3" text-anchor="middle" textLength="37" lengthAdjust="spacingAndGlyphs" stroke="#1d1a1b" stroke-width="0.3">Beta value</text>
<text x="100.9" y="381.8" font-size="9" text-anchor="middle" fill="#111" stroke="#111" stroke-width="0.22">*</text>
<g fill="#2f9fd4"><circle cx="83.7" cy="392.6" r="1.9"/><circle cx="88.3" cy="392.6" r="1.9"/><circle cx="86" cy="410.3" r="1.9"/><circle cx="86" cy="420.8" r="1.9"/><circle cx="86" cy="435.2" r="1.9"/><circle cx="83.8" cy="451.1" r="1.9"/><circle cx="88.4" cy="451.1" r="1.9"/><circle cx="86.1" cy="459.2" r="1.9"/><circle cx="81.4" cy="464.3" r="1.9"/><circle cx="84.6" cy="464.3" r="1.9"/><circle cx="87.8" cy="464.3" r="1.9"/><circle cx="91" cy="464.3" r="1.9"/><circle cx="86.1" cy="471.5" r="1.9"/></g>
<g fill="#ee8a12"><circle cx="123.9" cy="452.9" r="1.9"/><circle cx="128.5" cy="452.9" r="1.9"/><circle cx="122.3" cy="461.2" r="1.9"/><circle cx="126.6" cy="461.2" r="1.9"/><circle cx="130.9" cy="461.2" r="1.9"/><circle cx="114.7" cy="468.1" r="1.9"/><circle cx="117.98" cy="468.1" r="1.9"/><circle cx="121.26" cy="468.1" r="1.9"/><circle cx="124.54" cy="468.1" r="1.9"/><circle cx="127.82000000000001" cy="468.1" r="1.9"/><circle cx="131.1" cy="468.1" r="1.9"/><circle cx="134.38" cy="468.1" r="1.9"/><circle cx="137.66" cy="468.1" r="1.9"/></g>
<text x="188.9" y="345.9" font-size="14.2" fill="#000" font-weight="bold" stroke="#000" stroke-width="0.45">C</text>
<text x="258.5" y="351" font-size="11.1" textLength="126" lengthAdjust="spacingAndGlyphs" stroke="#1d1a1b" stroke-width="0.22"><tspan font-style="italic">PPARG CpG</tspan> Methylation</text>
<text x="279.25" y="375.9" font-size="9.6" text-anchor="middle" stroke="#1d1a1b" stroke-width="0.22">CR</text>
<text x="365.7" y="375.9" font-size="9.6" text-anchor="middle" stroke="#1d1a1b" stroke-width="0.22">R/R</text>
<text x="217.2" y="509.7" font-size="9.6" textLength="12.4" stroke="#1d1a1b" stroke-width="0.22">0.0</text>
<text x="217.2" y="464.8" font-size="9.6" textLength="12.4" stroke="#1d1a1b" stroke-width="0.22">0.5</text>
<text x="217.2" y="419.9" font-size="9.6" textLength="12.4" stroke="#1d1a1b" stroke-width="0.22">1.0</text>
<path d="M340.7 409.4H388.8" stroke="#1c1c1c" stroke-width="1" fill="none"/>
<path d="M237.4 380.7V506.4H319.1M324.1 506.4H406.4M234.3 506.4H237.4M234.3 461.5H237.4M234.3 416.6H237.4M259.3 506.4V509.9M297.9 506.4V509.9M345.8 506.4V509.9M385.3 506.4V509.9" stroke="#1c1c1c" stroke-width="1.35" fill="none"/>
<text x="259.3" y="521.7" font-size="9.6" text-anchor="middle" stroke="#1d1a1b" stroke-width="0.22">Pre</text>
<text x="298.4" y="521.7" font-size="9.6" text-anchor="middle" stroke="#1d1a1b" stroke-width="0.22">Post</text>
<text x="345.85" y="521.7" font-size="9.6" text-anchor="middle" stroke="#1d1a1b" stroke-width="0.22">Pre</text>
<text x="387.25" y="521.7" font-size="9.6" text-anchor="middle" stroke="#1d1a1b" stroke-width="0.22">Post</text>
<text transform="translate(208.7 443.2) rotate(-90)" font-size="11.3" text-anchor="middle" textLength="38" lengthAdjust="spacingAndGlyphs" stroke="#1d1a1b" stroke-width="0.3">Beta value</text>
<text x="364.7" y="409" font-size="9" text-anchor="middle" fill="#111" stroke="#111" stroke-width="0.22">*</text>
<g fill="#2f9fd4"><circle cx="259.3" cy="421.9" r="1.9"/><circle cx="254.7" cy="431.0" r="1.9"/><circle cx="259.3" cy="431.0" r="1.9"/><circle cx="264" cy="431.0" r="1.9"/><circle cx="257" cy="436.3" r="1.9"/><circle cx="261.7" cy="436.3" r="1.9"/><circle cx="257" cy="443.1" r="1.9"/><circle cx="261.7" cy="443.1" r="1.9"/><circle cx="257" cy="455.2" r="1.9"/><circle cx="261.7" cy="455.2" r="1.9"/></g>
<g fill="#2f9fd4"><circle cx="297.9" cy="430.0" r="1.9"/><circle cx="297.9" cy="436.3" r="1.9"/><circle cx="295.5" cy="449.0" r="1.9"/><circle cx="300.2" cy="449.0" r="1.9"/></g>
<g fill="#ee8a12"><circle cx="341.7" cy="421.4" r="1.9"/><circle cx="346.2" cy="421.4" r="1.9"/><circle cx="350.8" cy="421.4" r="1.9"/><circle cx="344.1" cy="427.7" r="1.9"/><circle cx="348.6" cy="427.7" r="1.9"/><circle cx="346.2" cy="432.9" r="1.9"/><circle cx="344.1" cy="437.7" r="1.9"/><circle cx="348.6" cy="437.7" r="1.9"/><circle cx="346.2" cy="444.0" r="1.9"/><circle cx="344.1" cy="459.3" r="1.9"/><circle cx="348.6" cy="459.3" r="1.9"/><circle cx="346.2" cy="471.6" r="1.9"/><circle cx="346.2" cy="483.5" r="1.9"/></g>
<g fill="#ee8a12"><circle cx="382.4" cy="451.3" r="1.9"/><circle cx="387" cy="451.3" r="1.9"/><circle cx="384.6" cy="461.2" r="1.9"/><circle cx="384.6" cy="466.5" r="1.9"/><circle cx="384.6" cy="499.8" r="1.9"/></g>
<rect x="0.5" y="0.5" width="519" height="532" fill="none" stroke="#3c3c3c" stroke-width="1"/>
</svg>
</body></html>
